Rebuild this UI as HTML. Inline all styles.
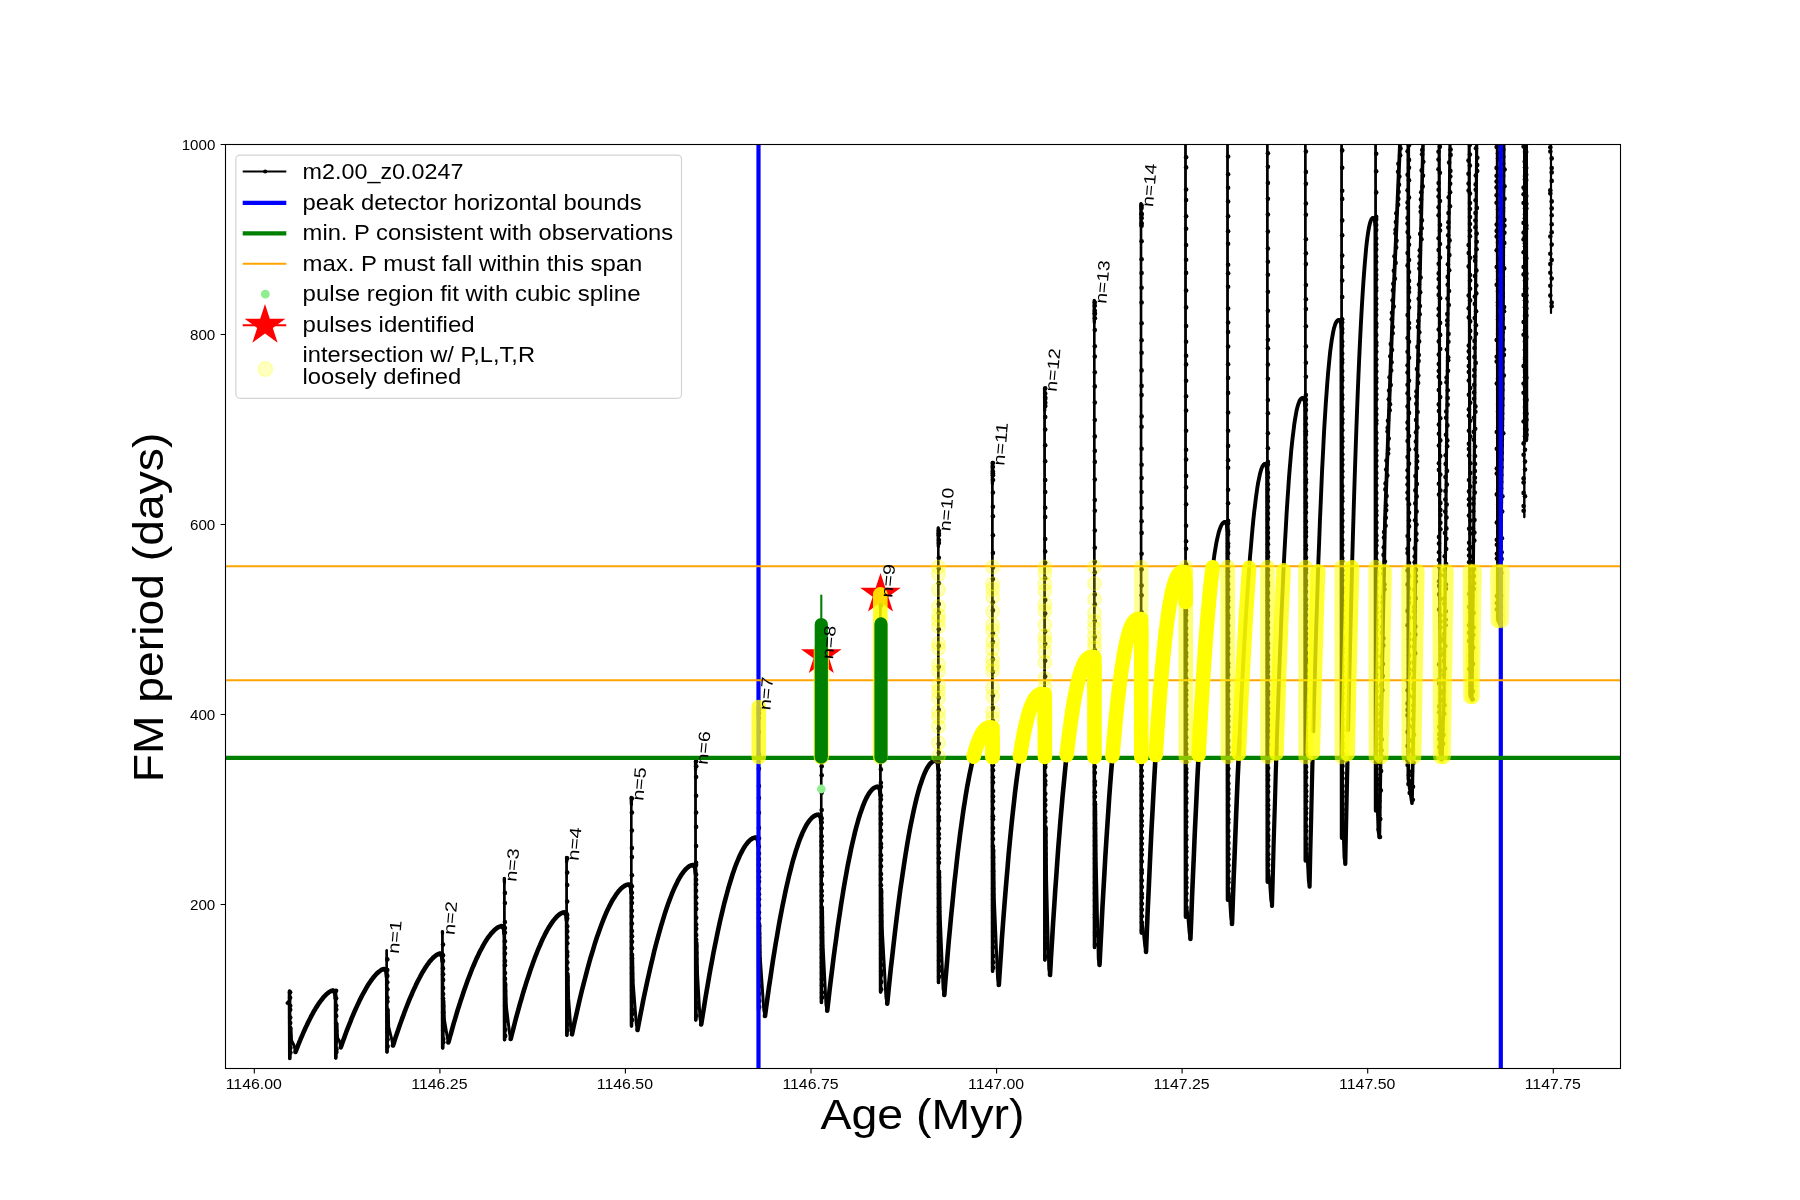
<!DOCTYPE html>
<html><head><meta charset="utf-8"><title>plot</title><style>html,body{margin:0;padding:0;background:#fff;overflow:hidden}svg{display:block;will-change:transform}</style></head><body>
<svg width="1800" height="1200" viewBox="0 0 1800 1200">
<rect x="0" y="0" width="1800" height="1200" fill="#fff"/>
<defs><clipPath id="cp"><rect x="225" y="144" width="1396" height="925"/></clipPath></defs>
<g clip-path="url(#cp)">
<g fill="none" stroke="#000" stroke-linecap="round" stroke-linejoin="round">
<path d="M289.5 991 L289.5 991" stroke-width="2.3"/>
<path d="M289.5 991 L289.8 1058.5" stroke-width="2.4"/>
<path d="M289.5 991 L289.8 1058.5" stroke-width="3.6"/>
<path d="M289.8 1058.5 L290.9 1028.5" stroke-width="2.8"/>
<path d="M290.9 1028.5 L291.5 1040.5 L294.3 1046 L295.5 1052" stroke-width="3"/>
<path d="M295.5 1052 L296.4 1049.6 L297.4 1047.2 L298.3 1044.8 L299.2 1042.5 L300.2 1040.2 L301.1 1037.9 L302.1 1035.7 L303 1033.5 L303.9 1031.4 L304.9 1029.3 L305.8 1027.3 L306.8 1025.3 L307.7 1023.3 L308.6 1021.4 L309.6 1019.5 L310.5 1017.7 L311.4 1015.9 L312.4 1014.1 L313.3 1012.4 L314.2 1010.8 L315.2 1009.2 L316.1 1007.6 L317.1 1006.1 L318 1004.7 L318.9 1003.3 L319.9 1002 L320.8 1000.7 L321.8 999.5 L322.7 998.3 L323.6 997.2 L324.6 996.2 L325.5 995.2 L326.4 994.3 L327.4 993.5 L328.3 992.7 L329.2 992 L330.2 991.5 L331.1 991 L332.1 990.7 L333 990.5" stroke-width="4.6"/>
<path d="M333 990.5 L335 993.5 L335.5 998.5" stroke-width="4"/>
<path d="M335.5 990.5 L335.5 993" stroke-width="2.3"/>
<path d="M335.5 993 L335.8 1058" stroke-width="2.4"/>
<path d="M335.5 990.5 L335.8 1058" stroke-width="3.6"/>
<path d="M335.8 1058 L336.9 1024.2" stroke-width="2.8"/>
<path d="M336.9 1024.2 L337.5 1037.8 L339.6 1041.3 L340.8 1047.3" stroke-width="3"/>
<path d="M340.8 1047.3 L341.9 1044.2 L343 1041.1 L344.1 1038.1 L345.1 1035.2 L346.2 1032.2 L347.3 1029.4 L348.4 1026.6 L349.5 1023.8 L350.6 1021.1 L351.6 1018.4 L352.7 1015.8 L353.8 1013.3 L354.9 1010.7 L356 1008.3 L357.1 1005.9 L358.2 1003.6 L359.2 1001.3 L360.3 999.1 L361.4 996.9 L362.5 994.8 L363.6 992.8 L364.7 990.8 L365.8 988.9 L366.8 987.1 L367.9 985.3 L369 983.6 L370.1 982 L371.2 980.4 L372.3 978.9 L373.4 977.5 L374.4 976.2 L375.5 975 L376.6 973.8 L377.7 972.8 L378.8 971.8 L379.9 971 L380.9 970.2 L382 969.6 L383.1 969.2 L384.2 969" stroke-width="4.6"/>
<path d="M384.2 969 L386.2 972 L386.7 977" stroke-width="4"/>
<path d="M386.7 969 L386.7 950.4" stroke-width="2.3"/>
<path d="M386.7 950.4 L387 1052" stroke-width="2.4"/>
<path d="M386.7 969 L387 1052" stroke-width="3.6"/>
<path d="M387 1052 L388.1 1010.5" stroke-width="2.8"/>
<path d="M388.1 1010.5 L388.7 1027.1 L391.8 1039.5 L393 1045.5" stroke-width="3"/>
<path d="M393 1045.5 L394.2 1041.9 L395.3 1038.3 L396.5 1034.7 L397.7 1031.2 L398.9 1027.8 L400 1024.5 L401.2 1021.2 L402.4 1017.9 L403.6 1014.7 L404.7 1011.6 L405.9 1008.5 L407.1 1005.5 L408.2 1002.6 L409.4 999.7 L410.6 996.9 L411.8 994.2 L412.9 991.5 L414.1 988.9 L415.3 986.4 L416.4 983.9 L417.6 981.5 L418.8 979.2 L420 977 L421.1 974.8 L422.3 972.7 L423.5 970.7 L424.7 968.8 L425.8 967 L427 965.2 L428.2 963.6 L429.3 962 L430.5 960.6 L431.7 959.3 L432.9 958 L434 956.9 L435.2 955.9 L436.4 955.1 L437.6 954.4 L438.7 953.9 L439.9 953.6" stroke-width="4.6"/>
<path d="M439.9 953.6 L441.9 956.6 L442.4 961.6" stroke-width="4"/>
<path d="M442.4 953.6 L442.4 931.6" stroke-width="2.3"/>
<path d="M442.4 931.6 L442.7 1048" stroke-width="2.4"/>
<path d="M442.4 931.6 L442.5 933.4" stroke-width="3.3"/>
<path d="M442.4 953.6 L442.7 1048" stroke-width="3.6"/>
<path d="M442.7 1048 L443.8 1000.8" stroke-width="2.8"/>
<path d="M443.8 1000.8 L444.4 1019.7 L447.2 1036.5 L448.4 1042.5" stroke-width="3"/>
<path d="M448.4 1042.5 L449.7 1037.6 L451.1 1032.8 L452.4 1028.1 L453.7 1023.4 L455.1 1018.9 L456.4 1014.4 L457.7 1010 L459.1 1005.8 L460.4 1001.6 L461.8 997.5 L463.1 993.5 L464.4 989.6 L465.8 985.8 L467.1 982.1 L468.4 978.5 L469.8 974.9 L471.1 971.5 L472.4 968.2 L473.8 965 L475.1 961.9 L476.4 958.9 L477.8 956.1 L479.1 953.3 L480.4 950.6 L481.8 948.1 L483.1 945.6 L484.4 943.3 L485.8 941.1 L487.1 939.1 L488.4 937.1 L489.8 935.3 L491.1 933.6 L492.5 932.1 L493.8 930.7 L495.1 929.5 L496.5 928.4 L497.8 927.5 L499.1 926.8 L500.5 926.3 L501.8 926.1" stroke-width="4.6"/>
<path d="M501.8 926.1 L503.8 929.1 L504.3 934.1" stroke-width="4"/>
<path d="M504.3 926.1 L504.3 878.5" stroke-width="2.3"/>
<path d="M504.3 878.5 L504.6 1039.8" stroke-width="2.4"/>
<path d="M504.3 878.5 L504.4 882.3" stroke-width="3.3"/>
<path d="M504.3 926.1 L504.6 1039.8" stroke-width="3.6"/>
<path d="M504.6 1039.8 L505.7 983" stroke-width="2.8"/>
<path d="M505.7 983 L506.3 1005.7 L509.5 1032.9 L510.7 1038.9" stroke-width="3"/>
<path d="M510.7 1038.9 L512 1033.6 L513.4 1028.3 L514.7 1023.2 L516 1018.2 L517.4 1013.2 L518.7 1008.4 L520 1003.6 L521.4 999 L522.7 994.4 L524 990 L525.4 985.6 L526.7 981.4 L528.1 977.2 L529.4 973.2 L530.7 969.3 L532.1 965.5 L533.4 961.8 L534.7 958.2 L536.1 954.7 L537.4 951.3 L538.7 948.1 L540.1 945 L541.4 941.9 L542.7 939 L544.1 936.3 L545.4 933.6 L546.7 931.1 L548.1 928.7 L549.4 926.5 L550.8 924.4 L552.1 922.4 L553.4 920.6 L554.8 918.9 L556.1 917.4 L557.4 916.1 L558.8 914.9 L560.1 913.9 L561.4 913.2 L562.8 912.6 L564.1 912.4" stroke-width="4.6"/>
<path d="M564.1 912.4 L566.1 915.4 L566.6 920.4" stroke-width="4"/>
<path d="M566.6 912.4 L566.6 857.4" stroke-width="2.3"/>
<path d="M566.6 857.4 L566.9 1035.2" stroke-width="2.4"/>
<path d="M566.6 857.4 L566.7 861.8" stroke-width="3.3"/>
<path d="M566.6 912.4 L566.9 1035.2" stroke-width="3.6"/>
<path d="M566.9 1035.2 L568 973.8" stroke-width="2.8"/>
<path d="M568 973.8 L568.6 998.4 L570.8 1028.3 L572 1034.3" stroke-width="3"/>
<path d="M572 1034.3 L573.4 1027.6 L574.8 1021.1 L576.3 1014.7 L577.7 1008.4 L579.1 1002.3 L580.5 996.3 L581.9 990.5 L583.4 984.7 L584.8 979.2 L586.2 973.8 L587.6 968.5 L589 963.3 L590.4 958.3 L591.9 953.5 L593.3 948.8 L594.7 944.2 L596.1 939.8 L597.5 935.6 L599 931.5 L600.4 927.5 L601.8 923.7 L603.2 920.1 L604.6 916.6 L606 913.3 L607.5 910.1 L608.9 907.1 L610.3 904.3 L611.7 901.7 L613.1 899.2 L614.6 896.9 L616 894.7 L617.4 892.8 L618.8 891 L620.2 889.4 L621.7 888 L623.1 886.9 L624.5 885.9 L625.9 885.2 L627.3 884.7 L628.8 884.5" stroke-width="4.6"/>
<path d="M628.8 884.5 L630.8 887.5 L631.2 892.5" stroke-width="4"/>
<path d="M631.2 884.5 L631.2 797.5" stroke-width="2.3"/>
<path d="M631.2 797.5 L631.5 1026" stroke-width="2.4"/>
<path d="M631.2 797.5 L631.4 804.5" stroke-width="3.3"/>
<path d="M631.2 884.5 L631.5 1026" stroke-width="3.6"/>
<path d="M631.5 1026 L632.6 955.2" stroke-width="2.8"/>
<path d="M632.6 955.2 L633.2 983.5 L636.3 1024 L637.5 1030" stroke-width="3"/>
<path d="M637.5 1030 L638.9 1022.6 L640.3 1015.4 L641.7 1008.4 L643 1001.5 L644.4 994.7 L645.8 988.2 L647.2 981.7 L648.6 975.4 L650 969.3 L651.4 963.3 L652.8 957.5 L654.1 951.8 L655.5 946.3 L656.9 941 L658.3 935.8 L659.7 930.8 L661.1 925.9 L662.5 921.3 L663.9 916.7 L665.2 912.4 L666.6 908.2 L668 904.2 L669.4 900.4 L670.8 896.7 L672.2 893.2 L673.6 889.9 L675 886.8 L676.4 883.9 L677.7 881.2 L679.1 878.6 L680.5 876.3 L681.9 874.1 L683.3 872.2 L684.7 870.4 L686.1 868.9 L687.5 867.6 L688.8 866.6 L690.2 865.8 L691.6 865.2 L693 865" stroke-width="4.6"/>
<path d="M693 865 L695 868 L695.5 873" stroke-width="4"/>
<path d="M695.5 865 L695.5 761.2" stroke-width="2.3"/>
<path d="M695.5 761.2 L695.8 1020" stroke-width="2.4"/>
<path d="M695.5 761.2 L695.6 769.5" stroke-width="3.3"/>
<path d="M695.5 865 L695.8 1020" stroke-width="3.6"/>
<path d="M695.8 1020 L696.9 942.5" stroke-width="2.8"/>
<path d="M696.9 942.5 L697.5 973.5 L700 1018.5 L701.2 1024.5" stroke-width="3"/>
<path d="M701.2 1024.5 L702.6 1015.7 L704 1007.1 L705.3 998.8 L706.7 990.6 L708.1 982.6 L709.4 974.8 L710.8 967.2 L712.2 959.9 L713.5 952.7 L714.9 945.8 L716.3 939 L717.6 932.5 L719 926.1 L720.3 920 L721.7 914.1 L723.1 908.3 L724.4 902.8 L725.8 897.6 L727.2 892.5 L728.5 887.6 L729.9 883 L731.3 878.5 L732.6 874.3 L734 870.3 L735.3 866.5 L736.7 862.9 L738.1 859.6 L739.4 856.5 L740.8 853.6 L742.2 850.9 L743.5 848.5 L744.9 846.3 L746.3 844.3 L747.6 842.6 L749 841.1 L750.3 839.9 L751.7 838.9 L753.1 838.1 L754.4 837.7 L755.8 837.5" stroke-width="4.6"/>
<path d="M755.8 837.5 L757.8 840.5 L758.3 845.5" stroke-width="4"/>
<path d="M758.3 837.5 L758.3 707" stroke-width="2.3"/>
<path d="M758.3 707 L758.6 1010" stroke-width="2.4"/>
<path d="M758.3 707 L758.4 717.4" stroke-width="3.3"/>
<path d="M758.3 837.5 L758.6 1010" stroke-width="3.6"/>
<path d="M758.6 1010 L759.7 923.8" stroke-width="2.8"/>
<path d="M759.7 923.8 L760.3 958.2 L763.8 1010 L765 1016" stroke-width="3"/>
<path d="M765 1016 L766.3 1006.1 L767.7 996.4 L769 986.9 L770.4 977.8 L771.7 968.8 L773 960.1 L774.4 951.7 L775.7 943.5 L777.1 935.6 L778.4 927.9 L779.7 920.5 L781.1 913.3 L782.4 906.4 L783.8 899.7 L785.1 893.3 L786.4 887.2 L787.8 881.3 L789.1 875.6 L790.5 870.2 L791.8 865 L793.1 860.1 L794.5 855.5 L795.8 851.1 L797.2 846.9 L798.5 843 L799.8 839.4 L801.2 836 L802.5 832.8 L803.9 829.9 L805.2 827.3 L806.5 824.9 L807.9 822.8 L809.2 820.9 L810.6 819.2 L811.9 817.8 L813.2 816.7 L814.6 815.8 L815.9 815.2 L817.3 814.8 L818.6 814.7" stroke-width="4.6"/>
<path d="M818.6 814.7 L820.6 817.7 L821.1 822.7" stroke-width="4"/>
<path d="M821.1 814.7 L821.1 655.8" stroke-width="2.3"/>
<path d="M821.1 655.8 L821.4 1002.5" stroke-width="2.4"/>
<path d="M821.1 655.8 L821.2 668.5" stroke-width="3.3"/>
<path d="M821.1 814.7 L821.4 1002.5" stroke-width="3.6"/>
<path d="M821.4 1002.5 L822.5 908.6" stroke-width="2.8"/>
<path d="M822.5 908.6 L823.1 946.2 L826 1004.7 L827.2 1010.7" stroke-width="3"/>
<path d="M827.2 1010.7 L828.5 999.6 L829.7 988.9 L831 978.4 L832.3 968.1 L833.5 958.2 L834.8 948.5 L836.1 939.2 L837.3 930.1 L838.6 921.2 L839.9 912.7 L841.1 904.4 L842.4 896.5 L843.6 888.8 L844.9 881.3 L846.2 874.2 L847.4 867.3 L848.7 860.8 L850 854.5 L851.2 848.4 L852.5 842.7 L853.8 837.2 L855 832.1 L856.3 827.2 L857.6 822.5 L858.8 818.2 L860.1 814.1 L861.4 810.4 L862.6 806.9 L863.9 803.6 L865.1 800.7 L866.4 798 L867.7 795.7 L868.9 793.6 L870.2 791.7 L871.5 790.2 L872.7 788.9 L874 788 L875.3 787.3 L876.5 786.8 L877.8 786.7" stroke-width="4.6"/>
<path d="M877.8 786.7 L879.8 789.7 L880.3 794.7" stroke-width="4"/>
<path d="M880.3 786.7 L880.3 594.3" stroke-width="2.3"/>
<path d="M880.3 594.3 L880.6 992" stroke-width="2.4"/>
<path d="M880.3 594.3 L880.4 609.7" stroke-width="3.3"/>
<path d="M880.3 786.7 L880.6 992" stroke-width="3.6"/>
<path d="M880.6 992 L881.7 889.4" stroke-width="2.8"/>
<path d="M881.7 889.4 L882.3 930.4 L886 997.7 L887.2 1003.7" stroke-width="3"/>
<path d="M887.2 1003.7 L888.4 991.7 L889.6 980 L890.8 968.6 L892.1 957.5 L893.3 946.7 L894.5 936.2 L895.7 926 L896.9 916.1 L898.1 906.6 L899.3 897.3 L900.5 888.3 L901.8 879.7 L903 871.3 L904.2 863.3 L905.4 855.5 L906.6 848.1 L907.8 840.9 L909 834.1 L910.2 827.5 L911.5 821.3 L912.7 815.4 L913.9 809.7 L915.1 804.4 L916.3 799.4 L917.5 794.7 L918.7 790.3 L919.9 786.2 L921.2 782.4 L922.4 778.9 L923.6 775.7 L924.8 772.8 L926 770.2 L927.2 767.9 L928.4 766 L929.6 764.3 L930.9 762.9 L932.1 761.9 L933.3 761.1 L934.5 760.7 L935.7 760.5" stroke-width="4.6"/>
<path d="M935.7 760.5 L937.7 763.5 L938.2 768.5" stroke-width="4"/>
<path d="M938.2 760.5 L938.2 528" stroke-width="2.3"/>
<path d="M938.2 528 L938.5 982.5" stroke-width="2.4"/>
<path d="M938.2 528 L938.3 546.6" stroke-width="3.3"/>
<path d="M938.2 760.5 L938.5 982.5" stroke-width="3.6"/>
<path d="M938.5 982.5 L939.6 871.5" stroke-width="2.8"/>
<path d="M939.6 871.5 L940.2 915.9 L943.1 989 L944.3 995" stroke-width="3"/>
<path d="M944.3 995 L945.4 980.8 L946.6 967.1 L947.7 953.7 L948.8 940.8 L950 928.2 L951.1 916.1 L952.3 904.4 L953.4 893.1 L954.5 882.1 L955.7 871.6 L956.8 861.5 L957.9 851.7 L959.1 842.4 L960.2 833.4 L961.4 824.9 L962.5 816.7 L963.6 808.9 L964.8 801.5 L965.9 794.4 L967 787.8 L968.2 781.5 L969.3 775.6 L970.5 770 L971.6 764.8 L972.7 760 L973.9 755.5 L975 751.4 L976.1 747.6 L977.3 744.2 L978.4 741.1 L979.6 738.3 L980.7 735.9 L981.8 733.8 L983 732 L984.1 730.6 L985.2 729.4 L986.4 728.5 L987.5 727.9 L988.7 727.6 L989.8 727.5" stroke-width="4.6"/>
<path d="M989.8 727.5 L991.8 730.5 L992.3 735.5" stroke-width="4"/>
<path d="M992.3 727.5 L992.3 462.5" stroke-width="2.3"/>
<path d="M992.3 462.5 L992.6 971.3" stroke-width="2.4"/>
<path d="M992.3 462.5 L992.4 483.7" stroke-width="3.3"/>
<path d="M992.3 727.5 L992.6 971.3" stroke-width="3.6"/>
<path d="M992.6 971.3 L993.7 849.4" stroke-width="2.8"/>
<path d="M993.7 849.4 L994.3 898.2 L997.6 979 L998.8 985" stroke-width="3"/>
<path d="M998.8 985 L999.9 968.5 L1001 952.6 L1002 937.2 L1003.1 922.4 L1004.2 908 L1005.3 894.2 L1006.4 881 L1007.5 868.2 L1008.5 855.9 L1009.6 844.2 L1010.7 832.9 L1011.8 822.1 L1012.9 811.8 L1014 802 L1015 792.7 L1016.1 783.9 L1017.2 775.5 L1018.3 767.6 L1019.4 760.1 L1020.4 753.1 L1021.5 746.5 L1022.6 740.4 L1023.7 734.7 L1024.8 729.4 L1025.9 724.5 L1026.9 720 L1028 715.9 L1029.1 712.3 L1030.2 708.9 L1031.3 706 L1032.4 703.4 L1033.4 701.2 L1034.5 699.3 L1035.6 697.7 L1036.7 696.4 L1037.8 695.5 L1038.9 694.8 L1039.9 694.3 L1041 694.1 L1042.1 694" stroke-width="4.6"/>
<path d="M1042.1 694 L1044.1 697 L1044.6 702" stroke-width="4"/>
<path d="M1044.6 694 L1044.6 388.4" stroke-width="2.3"/>
<path d="M1044.6 388.4 L1044.9 960" stroke-width="2.4"/>
<path d="M1044.6 388.4 L1044.7 410.4" stroke-width="3.3"/>
<path d="M1044.6 694 L1044.9 960" stroke-width="3.6"/>
<path d="M1044.9 960 L1046 827" stroke-width="2.8"/>
<path d="M1046 827 L1046.6 880.2 L1048.8 969 L1050 975" stroke-width="3"/>
<path d="M1050 975 L1051 957 L1052.1 939.6 L1053.1 922.8 L1054.2 906.6 L1055.2 890.9 L1056.3 875.8 L1057.3 861.3 L1058.3 847.3 L1059.4 833.9 L1060.4 821.1 L1061.5 808.8 L1062.5 797 L1063.6 785.8 L1064.6 775.1 L1065.6 764.9 L1066.7 755.2 L1067.7 746.1 L1068.8 737.4 L1069.8 729.2 L1070.8 721.6 L1071.9 714.4 L1072.9 707.7 L1074 701.4 L1075 695.7 L1076.1 690.3 L1077.1 685.4 L1078.1 681 L1079.2 676.9 L1080.2 673.3 L1081.3 670.1 L1082.3 667.3 L1083.4 664.8 L1084.4 662.8 L1085.4 661 L1086.5 659.7 L1087.5 658.6 L1088.6 657.8 L1089.6 657.3 L1090.7 657.1 L1091.7 657" stroke-width="4.6"/>
<path d="M1091.7 657 L1093.7 660 L1094.2 665" stroke-width="4"/>
<path d="M1094.2 657 L1094.2 300.5" stroke-width="2.3"/>
<path d="M1094.2 300.5 L1094.5 947.5" stroke-width="2.4"/>
<path d="M1094.2 300.5 L1094.3 322.5" stroke-width="3.3"/>
<path d="M1094.2 657 L1094.5 947.5" stroke-width="3.6"/>
<path d="M1094.5 947.5 L1095.6 802.2" stroke-width="2.8"/>
<path d="M1095.6 802.2 L1096.2 860.4 L1098.3 959 L1099.5 965" stroke-width="3"/>
<path d="M1099.5 965 L1100.5 945.4 L1101.5 926.5 L1102.4 908.2 L1103.4 890.5 L1104.4 873.5 L1105.3 857.1 L1106.3 841.3 L1107.3 826.1 L1108.3 811.5 L1109.2 797.5 L1110.2 784.1 L1111.2 771.3 L1112.2 759.1 L1113.2 747.5 L1114.1 736.4 L1115.1 725.9 L1116.1 715.9 L1117 706.5 L1118 697.6 L1119 689.3 L1120 681.4 L1121 674.1 L1121.9 667.3 L1122.9 661.1 L1123.9 655.3 L1124.8 649.9 L1125.8 645.1 L1126.8 640.7 L1127.8 636.8 L1128.8 633.3 L1129.7 630.2 L1130.7 627.5 L1131.7 625.3 L1132.7 623.4 L1133.6 621.9 L1134.6 620.7 L1135.6 619.9 L1136.5 619.4 L1137.5 619.1 L1138.5 619" stroke-width="4.6"/>
<path d="M1138.5 619 L1140.5 622 L1141 627" stroke-width="4"/>
<path d="M1141 619 L1141 203.6" stroke-width="2.3"/>
<path d="M1141 203.6 L1141.3 933" stroke-width="2.4"/>
<path d="M1141 203.6 L1141.1 225.6" stroke-width="3.3"/>
<path d="M1141 619 L1141.3 933" stroke-width="3.6"/>
<path d="M1141.3 933 L1142.4 925" stroke-width="2.8"/>
<path d="M1142.4 925 L1143 928.2 L1144.8 946 L1146 952" stroke-width="3"/>
<path d="M1146 952 L1146.9 929.6 L1147.8 908 L1148.8 887.2 L1149.7 867.1 L1150.6 847.8 L1151.5 829.3 L1152.5 811.5 L1153.4 794.4 L1154.3 778.1 L1155.2 762.5 L1156.2 747.6" stroke-width="4.6"/>
<path d="M1156.2 747.6 L1157.1 733.4 L1158 719.9 L1159 707.1 L1159.9 695 L1160.8 683.5 L1161.7 672.7 L1162.7 662.5 L1163.6 652.9 L1164.5 644 L1165.4 635.7 L1166.3 627.9 L1167.3 620.7 L1168.2 614.1 L1169.1 608.1 L1170 602.6 L1171 597.6 L1171.9 593.1 L1172.8 589.1 L1173.8 585.6 L1174.7 582.6 L1175.6 580 L1176.5 577.8 L1177.5 576 L1178.4 574.6 L1179.3 573.5 L1180.2 572.8 L1181.2 572.3 L1182.1 572.1 L1183 572" stroke-width="3.9"/>
<path d="M1183 572 L1185 575 L1185.5 580" stroke-width="4"/>
<path d="M1185.5 572 L1185.5 144" stroke-width="2.3"/>
<path d="M1185.5 144 L1185.8 917" stroke-width="2.4"/>
<path d="M1185.5 572 L1185.8 917" stroke-width="4.2"/>
<path d="M1185.8 917 L1186.9 909" stroke-width="2.8"/>
<path d="M1186.9 909 L1187.5 912.2 L1189.2 933 L1190.4 939" stroke-width="3"/>
<path d="M1190.4 939 L1191.3 916.9 L1192.1 895.5 L1193 874.6 L1193.9 854.5 L1194.7 834.9 L1195.6 816 L1196.5 797.7 L1197.3 780.1 L1198.2 763.1 L1199.1 746.7" stroke-width="4.6"/>
<path d="M1199.1 746.7 L1199.9 730.9 L1200.8 715.7 L1201.6 701.1 L1202.5 687.2 L1203.4 673.8 L1204.2 661 L1205.1 648.9 L1206 637.3 L1206.8 626.3 L1207.7 616 L1208.6 606.1 L1209.4 596.9 L1210.3 588.2 L1211.2 580.2 L1212 572.6 L1212.9 565.6 L1213.8 559.2 L1214.6 553.3 L1215.5 548 L1216.3 543.2 L1217.2 538.9 L1218.1 535.1 L1218.9 531.8 L1219.8 529.1 L1220.7 526.8 L1221.5 525 L1222.4 523.6 L1223.3 522.7 L1224.1 522.1 L1225 522" stroke-width="3.9"/>
<path d="M1225 522 L1227 525 L1227.5 530" stroke-width="4"/>
<path d="M1227.5 522 L1227.5 144" stroke-width="2.3"/>
<path d="M1227.5 144 L1227.8 900" stroke-width="2.4"/>
<path d="M1227.5 522 L1227.8 900" stroke-width="4.2"/>
<path d="M1227.8 900 L1228.8 892" stroke-width="2.8"/>
<path d="M1228.8 892 L1229.4 895.2 L1230.8 918 L1232 924" stroke-width="3"/>
<path d="M1232 924 L1232.8 901.3 L1233.6 879.1 L1234.5 857.6 L1235.3 836.6 L1236.1 816.2 L1236.9 796.3 L1237.7 777.1 L1238.6 758.4 L1239.4 740.3" stroke-width="4.6"/>
<path d="M1238.6 758.4 L1239.4 740.3 L1240.2 722.8 L1241 705.8 L1241.8 689.4 L1242.7 673.6 L1243.5 658.4 L1244.3 643.7 L1245.1 629.6 L1245.9 616.1 L1246.8 603.1 L1247.6 590.8 L1248.4 579 L1249.2 567.8 L1250 557.1 L1250.9 547.1 L1251.7 537.6 L1252.5 528.7 L1253.3 520.3 L1254.1 512.6 L1255 505.4 L1255.8 498.8 L1256.6 492.8 L1257.4 487.3 L1258.2 482.4 L1259.1 478.1 L1259.9 474.3 L1260.7 471.2 L1261.5 468.6 L1262.3 466.6 L1263.2 465.2 L1264 464.3 L1264.8 464" stroke-width="3.9"/>
<path d="M1264.8 464 L1266.8 467 L1267.3 472" stroke-width="4"/>
<path d="M1267.3 464 L1267.3 144" stroke-width="2.3"/>
<path d="M1267.3 144 L1267.6 882" stroke-width="2.4"/>
<path d="M1267.3 464 L1267.6 882" stroke-width="4.2"/>
<path d="M1267.6 882 L1268.7 874" stroke-width="2.8"/>
<path d="M1268.7 874 L1269.3 877.2 L1270.8 900 L1272 906" stroke-width="3"/>
<path d="M1272 906 L1272.8 877.3 L1273.5 849.5 L1274.3 822.6 L1275.1 796.7 L1275.8 771.7 L1276.6 747.6" stroke-width="4.2"/>
<path d="M1276.6 747.6 L1277.4 724.4 L1278.2 702.1 L1278.9 680.7 L1279.7 660.1 L1280.5 640.5 L1281.2 621.7 L1282 603.7 L1282.8 586.6 L1283.5 570.3 L1284.3 554.9 L1285.1 540.3 L1285.9 526.4 L1286.6 513.4 L1287.4 501.2 L1288.2 489.7 L1288.9 479 L1289.7 469 L1290.5 459.7 L1291.2 451.2 L1292 443.4 L1292.8 436.3 L1293.6 429.9 L1294.3 424.1 L1295.1 418.9 L1295.9 414.4 L1296.6 410.5 L1297.4 407.2 L1298.2 404.5 L1299 402.3 L1299.7 400.5 L1300.5 399.3 L1301.3 398.5 L1302 398.1 L1302.8 398" stroke-width="3.9"/>
<path d="M1302.8 398 L1304.8 401 L1305.3 406" stroke-width="4"/>
<path d="M1305.3 398 L1305.3 144" stroke-width="2.3"/>
<path d="M1305.3 144 L1305.6 860.7" stroke-width="2.4"/>
<path d="M1305.3 398 L1305.6 860.7" stroke-width="4.2"/>
<path d="M1305.6 860.7 L1306.6 852.7" stroke-width="2.8"/>
<path d="M1306.6 852.7 L1307.2 855.9 L1308.4 880.7 L1309.6 886.7" stroke-width="3"/>
<path d="M1309.6 886.7 L1310.3 853.3 L1311.1 821.1 L1311.8 790 L1312.5 760.1" stroke-width="4.2"/>
<path d="M1313.3 731.3 L1314 703.7 L1314.8 677.1 L1315.5 651.7 L1316.2 627.4 L1317 604.1 L1317.7 581.9 L1318.4 560.8 L1319.2 540.6 L1319.9 521.5 L1320.7 503.4 L1321.4 486.3 L1322.1 470.2 L1322.9 455 L1323.6 440.7 L1324.3 427.4 L1325.1 414.9 L1325.8 403.4 L1326.6 392.7 L1327.3 382.8 L1328 373.8 L1328.8 365.6 L1329.5 358.2 L1330.2 351.5 L1331 345.6 L1331.7 340.3 L1332.5 335.8 L1333.2 331.9 L1333.9 328.6 L1334.7 326 L1335.4 323.9 L1336.1 322.3 L1336.9 321.1 L1337.6 320.4 L1338.4 320.1 L1339.1 320" stroke-width="3.9"/>
<path d="M1339.1 320 L1341.1 323 L1341.6 328" stroke-width="4"/>
<path d="M1341.6 320 L1341.6 144" stroke-width="2.3"/>
<path d="M1341.6 144 L1341.9 838" stroke-width="2.4"/>
<path d="M1341.6 320 L1341.9 838" stroke-width="4.2"/>
<path d="M1341.9 838 L1342.7 830" stroke-width="2.8"/>
<path d="M1342.7 830 L1343.3 833.2 L1344.1 858 L1345.3 864" stroke-width="3"/>
<path d="M1345.3 864 L1346 829 L1346.7 795.1 L1347.4 762.2" stroke-width="4.2"/>
<path d="M1348.1 730.3 L1348.8 699.6 L1349.5 669.8 L1350.2 641.1 L1350.9 613.4 L1351.6 586.7 L1352.2 561.1 L1352.9 536.4 L1353.6 512.7 L1354.3 490.1 L1355 468.4 L1355.7 447.7 L1356.4 428 L1357.1 409.2 L1357.8 391.4 L1358.5 374.5 L1359.2 358.6 L1359.9 343.6 L1360.6 329.5 L1361.3 316.3 L1362 304.1 L1362.7 292.7 L1363.4 282.1 L1364.1 272.5 L1364.8 263.7 L1365.5 255.7 L1366.1 248.6 L1366.8 242.3 L1367.5 236.7 L1368.2 232 L1368.9 227.9 L1369.6 224.7 L1370.3 222.1 L1371 220.2 L1371.7 218.9 L1372.4 218.2 L1373.1 218" stroke-width="3.9"/>
<path d="M1373.1 218 L1375.1 221 L1375.6 226" stroke-width="4"/>
<path d="M1375.6 218 L1375.6 144" stroke-width="2.3"/>
<path d="M1375.6 144 L1375.9 810.7" stroke-width="2.4"/>
<path d="M1375.6 218 L1375.9 810.7" stroke-width="4.2"/>
<path d="M1375.9 810.7 L1376.7 802.7" stroke-width="2.8"/>
<path d="M1376.7 802.7 L1377.3 805.9 L1378.1 831.3 L1379.3 837.3" stroke-width="3"/>
<path d="M1379.3 837.3 L1381.5 700 L1385 520 L1392 330 L1400 144" stroke-width="3.8"/>
<path d="M1408.3 144 L1408.3 778.7 L1410 790 L1412 803.3 L1414 700 L1417 400 L1423 144" stroke-width="3.6"/>
<path d="M1439.2 144 L1440 753 L1442 760 L1444 700 L1447 400 L1450 144" stroke-width="3.2"/>
<path d="M1469.2 144 L1470 696 L1472 700 L1474 500 L1476.7 144" stroke-width="3.2"/>
<path d="M1497.3 144 L1497.6 620 L1500 625 L1503 400 L1504 144" stroke-width="3"/>
<path d="M1524.3 144 L1524.3 517" stroke-width="2.4"/>
<path d="M1525.5 144 L1525.8 440" stroke-width="5"/>
<path d="M1551 144 L1551 313" stroke-width="2.2"/>
<path d="M287.3 1003 L289.5 1001" stroke-width="3.6"/>
</g>
<g fill="#000"><circle cx="290.1" cy="992.2" r="2.3"/><circle cx="290.1" cy="997.7" r="2.3"/><circle cx="290.2" cy="1005.7" r="2.3"/><circle cx="290.2" cy="1009.7" r="2.3"/><circle cx="290.2" cy="1017.5" r="2.3"/><circle cx="290.2" cy="1023" r="2.3"/><circle cx="290.3" cy="1028" r="2.3"/><circle cx="290.3" cy="1035.8" r="2.3"/><circle cx="290.3" cy="1040.2" r="2.3"/><circle cx="290.4" cy="1047.8" r="2.3"/><circle cx="290.4" cy="1052.6" r="2.3"/><circle cx="336.1" cy="990.8" r="2.3"/><circle cx="336.1" cy="998.2" r="2.3"/><circle cx="336.2" cy="1005.8" r="2.3"/><circle cx="336.2" cy="1009.4" r="2.3"/><circle cx="336.2" cy="1015.9" r="2.3"/><circle cx="336.2" cy="1023.5" r="2.3"/><circle cx="336.3" cy="1030.8" r="2.3"/><circle cx="336.3" cy="1035.6" r="2.3"/><circle cx="336.3" cy="1041.1" r="2.3"/><circle cx="336.4" cy="1049.3" r="2.3"/><circle cx="336.4" cy="1052" r="2.3"/><circle cx="387.3" cy="959.4" r="2.3"/><circle cx="387.3" cy="970.1" r="2.3"/><circle cx="387.3" cy="975.9" r="2.3"/><circle cx="387.3" cy="982.2" r="2.3"/><circle cx="387.4" cy="989.3" r="2.3"/><circle cx="387.4" cy="997.7" r="2.3"/><circle cx="387.4" cy="1001.6" r="2.3"/><circle cx="387.4" cy="1009.5" r="2.3"/><circle cx="387.5" cy="1016.1" r="2.3"/><circle cx="387.5" cy="1021.5" r="2.3"/><circle cx="387.5" cy="1028.6" r="2.3"/><circle cx="387.5" cy="1033.1" r="2.3"/><circle cx="387.6" cy="1039.5" r="2.3"/><circle cx="387.6" cy="1046.4" r="2.3"/><circle cx="443" cy="944.6" r="2.3"/><circle cx="443" cy="955.2" r="2.3"/><circle cx="443" cy="961.1" r="2.3"/><circle cx="443" cy="968.4" r="2.3"/><circle cx="443.1" cy="974.2" r="2.3"/><circle cx="443.1" cy="979.9" r="2.3"/><circle cx="443.1" cy="988.1" r="2.3"/><circle cx="443.1" cy="994" r="2.3"/><circle cx="443.1" cy="998.6" r="2.3"/><circle cx="443.2" cy="1006.1" r="2.3"/><circle cx="443.2" cy="1012.2" r="2.3"/><circle cx="443.2" cy="1019.8" r="2.3"/><circle cx="443.2" cy="1025.6" r="2.3"/><circle cx="443.2" cy="1030.2" r="2.3"/><circle cx="443.3" cy="1039.1" r="2.3"/><circle cx="443.3" cy="1042.2" r="2.3"/><circle cx="504.9" cy="922.1" r="2.3"/><circle cx="504.9" cy="903" r="2.3"/><circle cx="504.9" cy="892.9" r="2.3"/><circle cx="504.9" cy="928" r="2.3"/><circle cx="504.9" cy="932.6" r="2.3"/><circle cx="504.9" cy="941.3" r="2.3"/><circle cx="505" cy="947.9" r="2.3"/><circle cx="505" cy="953.5" r="2.3"/><circle cx="505" cy="961" r="2.3"/><circle cx="505" cy="965.2" r="2.3"/><circle cx="505" cy="973" r="2.3"/><circle cx="505" cy="978.9" r="2.3"/><circle cx="505.1" cy="985.1" r="2.3"/><circle cx="505.1" cy="991" r="2.3"/><circle cx="505.1" cy="998.8" r="2.3"/><circle cx="505.1" cy="1005.5" r="2.3"/><circle cx="505.1" cy="1010" r="2.3"/><circle cx="505.1" cy="1017.1" r="2.3"/><circle cx="505.2" cy="1021.1" r="2.3"/><circle cx="505.2" cy="1029.8" r="2.3"/><circle cx="505.2" cy="1035.9" r="2.3"/><circle cx="567.2" cy="901.5" r="2.3"/><circle cx="567.2" cy="885" r="2.3"/><circle cx="567.2" cy="872.6" r="2.3"/><circle cx="567.2" cy="858.4" r="2.3"/><circle cx="567.2" cy="914.9" r="2.3"/><circle cx="567.2" cy="918.6" r="2.3"/><circle cx="567.2" cy="926.4" r="2.3"/><circle cx="567.2" cy="931.4" r="2.3"/><circle cx="567.3" cy="937.4" r="2.3"/><circle cx="567.3" cy="943.3" r="2.3"/><circle cx="567.3" cy="952.1" r="2.3"/><circle cx="567.3" cy="955.9" r="2.3"/><circle cx="567.3" cy="962.4" r="2.3"/><circle cx="567.3" cy="969.1" r="2.3"/><circle cx="567.4" cy="977" r="2.3"/><circle cx="567.4" cy="980.2" r="2.3"/><circle cx="567.4" cy="987.7" r="2.3"/><circle cx="567.4" cy="994.2" r="2.3"/><circle cx="567.4" cy="1001.6" r="2.3"/><circle cx="567.4" cy="1007.5" r="2.3"/><circle cx="567.4" cy="1013.8" r="2.3"/><circle cx="567.5" cy="1017.8" r="2.3"/><circle cx="567.5" cy="1024.4" r="2.3"/><circle cx="567.5" cy="1030.4" r="2.3"/><circle cx="631.9" cy="875.3" r="2.3"/><circle cx="631.9" cy="857.1" r="2.3"/><circle cx="631.9" cy="848.1" r="2.3"/><circle cx="631.9" cy="830.5" r="2.3"/><circle cx="631.9" cy="812.5" r="2.3"/><circle cx="631.9" cy="798.5" r="2.3"/><circle cx="631.9" cy="886.3" r="2.3"/><circle cx="631.9" cy="892.8" r="2.3"/><circle cx="631.9" cy="897.8" r="2.3"/><circle cx="631.9" cy="903" r="2.3"/><circle cx="631.9" cy="910.7" r="2.3"/><circle cx="631.9" cy="916.6" r="2.3"/><circle cx="631.9" cy="923.5" r="2.3"/><circle cx="631.9" cy="931.1" r="2.3"/><circle cx="632" cy="936.3" r="2.3"/><circle cx="632" cy="941.8" r="2.3"/><circle cx="632" cy="948.3" r="2.3"/><circle cx="632" cy="954.7" r="2.3"/><circle cx="632" cy="958.5" r="2.3"/><circle cx="632" cy="967.8" r="2.3"/><circle cx="632" cy="973.5" r="2.3"/><circle cx="632.1" cy="980" r="2.3"/><circle cx="632.1" cy="985.9" r="2.3"/><circle cx="632.1" cy="990.5" r="2.3"/><circle cx="632.1" cy="996.7" r="2.3"/><circle cx="632.1" cy="1001.8" r="2.3"/><circle cx="632.1" cy="1009.9" r="2.3"/><circle cx="632.1" cy="1013.9" r="2.3"/><circle cx="632.1" cy="1020.1" r="2.3"/><circle cx="696.1" cy="862.8" r="2.3"/><circle cx="696.1" cy="846" r="2.3"/><circle cx="696.1" cy="826.9" r="2.3"/><circle cx="696.1" cy="812.6" r="2.3"/><circle cx="696.1" cy="795.8" r="2.3"/><circle cx="696.1" cy="777" r="2.3"/><circle cx="696.1" cy="761.5" r="2.3"/><circle cx="696.2" cy="766.3" r="2.3"/><circle cx="696.1" cy="865.1" r="2.3"/><circle cx="696.1" cy="874.5" r="2.3"/><circle cx="696.1" cy="879.7" r="2.3"/><circle cx="696.1" cy="884.2" r="2.3"/><circle cx="696.1" cy="890.7" r="2.3"/><circle cx="696.2" cy="897.3" r="2.3"/><circle cx="696.2" cy="903.6" r="2.3"/><circle cx="696.2" cy="908.9" r="2.3"/><circle cx="696.2" cy="917.8" r="2.3"/><circle cx="696.2" cy="924.5" r="2.3"/><circle cx="696.2" cy="928.7" r="2.3"/><circle cx="696.2" cy="935" r="2.3"/><circle cx="696.2" cy="939.7" r="2.3"/><circle cx="696.3" cy="946" r="2.3"/><circle cx="696.3" cy="953.1" r="2.3"/><circle cx="696.3" cy="959" r="2.3"/><circle cx="696.3" cy="967.3" r="2.3"/><circle cx="696.3" cy="971" r="2.3"/><circle cx="696.3" cy="976.7" r="2.3"/><circle cx="696.3" cy="986.3" r="2.3"/><circle cx="696.3" cy="991" r="2.3"/><circle cx="696.4" cy="995.7" r="2.3"/><circle cx="696.4" cy="1003.4" r="2.3"/><circle cx="696.4" cy="1007.7" r="2.3"/><circle cx="696.4" cy="1015.8" r="2.3"/><circle cx="758.9" cy="827.9" r="2.3"/><circle cx="758.9" cy="812.7" r="2.3"/><circle cx="758.9" cy="798.1" r="2.3"/><circle cx="758.9" cy="786" r="2.3"/><circle cx="758.9" cy="768.7" r="2.3"/><circle cx="758.9" cy="754.3" r="2.3"/><circle cx="758.9" cy="732.1" r="2.3"/><circle cx="758.9" cy="718.1" r="2.3"/><circle cx="758.9" cy="709.4" r="2.3"/><circle cx="759" cy="713.3" r="2.3"/><circle cx="758.9" cy="838.3" r="2.3"/><circle cx="758.9" cy="846.7" r="2.3"/><circle cx="758.9" cy="853.5" r="2.3"/><circle cx="758.9" cy="859.1" r="2.3"/><circle cx="758.9" cy="865.1" r="2.3"/><circle cx="759" cy="871.3" r="2.3"/><circle cx="759" cy="877.2" r="2.3"/><circle cx="759" cy="881.5" r="2.3"/><circle cx="759" cy="888.7" r="2.3"/><circle cx="759" cy="894.3" r="2.3"/><circle cx="759" cy="899.2" r="2.3"/><circle cx="759" cy="905.4" r="2.3"/><circle cx="759" cy="912.5" r="2.3"/><circle cx="759" cy="918.5" r="2.3"/><circle cx="759.1" cy="926.3" r="2.3"/><circle cx="759.1" cy="933.4" r="2.3"/><circle cx="759.1" cy="937.7" r="2.3"/><circle cx="759.1" cy="945.7" r="2.3"/><circle cx="759.1" cy="952" r="2.3"/><circle cx="759.1" cy="958.1" r="2.3"/><circle cx="759.1" cy="962.1" r="2.3"/><circle cx="759.1" cy="967.7" r="2.3"/><circle cx="759.1" cy="973.9" r="2.3"/><circle cx="759.1" cy="979.9" r="2.3"/><circle cx="759.2" cy="986.1" r="2.3"/><circle cx="759.2" cy="993.8" r="2.3"/><circle cx="759.2" cy="1001" r="2.3"/><circle cx="759.2" cy="1006.9" r="2.3"/><circle cx="821.7" cy="810.1" r="2.3"/><circle cx="821.7" cy="792.6" r="2.3"/><circle cx="821.7" cy="775.3" r="2.3"/><circle cx="821.7" cy="766.2" r="2.3"/><circle cx="821.7" cy="744.8" r="2.3"/><circle cx="821.7" cy="726.6" r="2.3"/><circle cx="821.7" cy="711.9" r="2.3"/><circle cx="821.7" cy="696.3" r="2.3"/><circle cx="821.7" cy="683" r="2.3"/><circle cx="821.7" cy="670" r="2.3"/><circle cx="821.7" cy="657.8" r="2.3"/><circle cx="821.7" cy="660.9" r="2.3"/><circle cx="821.8" cy="666.3" r="2.3"/><circle cx="821.7" cy="818.2" r="2.3"/><circle cx="821.7" cy="822.2" r="2.3"/><circle cx="821.7" cy="828.3" r="2.3"/><circle cx="821.7" cy="836.3" r="2.3"/><circle cx="821.7" cy="841.6" r="2.3"/><circle cx="821.7" cy="845.6" r="2.3"/><circle cx="821.8" cy="851.5" r="2.3"/><circle cx="821.8" cy="857.7" r="2.3"/><circle cx="821.8" cy="866.5" r="2.3"/><circle cx="821.8" cy="872.2" r="2.3"/><circle cx="821.8" cy="875.8" r="2.3"/><circle cx="821.8" cy="884.3" r="2.3"/><circle cx="821.8" cy="891" r="2.3"/><circle cx="821.8" cy="895.8" r="2.3"/><circle cx="821.8" cy="900.8" r="2.3"/><circle cx="821.8" cy="907.6" r="2.3"/><circle cx="821.9" cy="912.1" r="2.3"/><circle cx="821.9" cy="917.7" r="2.3"/><circle cx="821.9" cy="927.3" r="2.3"/><circle cx="821.9" cy="932.2" r="2.3"/><circle cx="821.9" cy="937.8" r="2.3"/><circle cx="821.9" cy="945.3" r="2.3"/><circle cx="821.9" cy="949.6" r="2.3"/><circle cx="821.9" cy="957.2" r="2.3"/><circle cx="821.9" cy="963.1" r="2.3"/><circle cx="821.9" cy="966.9" r="2.3"/><circle cx="822" cy="973.1" r="2.3"/><circle cx="822" cy="979.3" r="2.3"/><circle cx="822" cy="985.2" r="2.3"/><circle cx="822" cy="992.5" r="2.3"/><circle cx="822" cy="997.4" r="2.3"/><circle cx="880.9" cy="782.7" r="2.3"/><circle cx="880.9" cy="769.4" r="2.3"/><circle cx="880.9" cy="745.9" r="2.3"/><circle cx="880.9" cy="735.2" r="2.3"/><circle cx="880.9" cy="718.2" r="2.3"/><circle cx="880.9" cy="700.9" r="2.3"/><circle cx="880.9" cy="681.8" r="2.3"/><circle cx="880.9" cy="670.4" r="2.3"/><circle cx="880.9" cy="649.6" r="2.3"/><circle cx="880.9" cy="637.6" r="2.3"/><circle cx="880.9" cy="621.3" r="2.3"/><circle cx="880.9" cy="605.3" r="2.3"/><circle cx="880.9" cy="594.4" r="2.3"/><circle cx="880.9" cy="600.8" r="2.3"/><circle cx="881" cy="605.1" r="2.3"/><circle cx="880.9" cy="786.7" r="2.3"/><circle cx="880.9" cy="795.6" r="2.3"/><circle cx="880.9" cy="799.4" r="2.3"/><circle cx="880.9" cy="806.5" r="2.3"/><circle cx="880.9" cy="813.5" r="2.3"/><circle cx="880.9" cy="818.9" r="2.3"/><circle cx="881" cy="824.1" r="2.3"/><circle cx="881" cy="830.8" r="2.3"/><circle cx="881" cy="837" r="2.3"/><circle cx="881" cy="843.9" r="2.3"/><circle cx="881" cy="847.5" r="2.3"/><circle cx="881" cy="855.2" r="2.3"/><circle cx="881" cy="860.1" r="2.3"/><circle cx="881" cy="866.2" r="2.3"/><circle cx="881" cy="874" r="2.3"/><circle cx="881" cy="879.1" r="2.3"/><circle cx="881" cy="885.3" r="2.3"/><circle cx="881.1" cy="892.1" r="2.3"/><circle cx="881.1" cy="898.7" r="2.3"/><circle cx="881.1" cy="903" r="2.3"/><circle cx="881.1" cy="909.7" r="2.3"/><circle cx="881.1" cy="915.3" r="2.3"/><circle cx="881.1" cy="921.4" r="2.3"/><circle cx="881.1" cy="928.1" r="2.3"/><circle cx="881.1" cy="933.3" r="2.3"/><circle cx="881.1" cy="939.6" r="2.3"/><circle cx="881.1" cy="945.4" r="2.3"/><circle cx="881.1" cy="953.1" r="2.3"/><circle cx="881.2" cy="958.3" r="2.3"/><circle cx="881.2" cy="965" r="2.3"/><circle cx="881.2" cy="971.3" r="2.3"/><circle cx="881.2" cy="974.8" r="2.3"/><circle cx="881.2" cy="982" r="2.3"/><circle cx="881.2" cy="989.4" r="2.3"/><circle cx="938.8" cy="752.7" r="2.3"/><circle cx="938.8" cy="743.7" r="2.3"/><circle cx="938.8" cy="728.4" r="2.3"/><circle cx="938.8" cy="709.9" r="2.3"/><circle cx="938.8" cy="697.8" r="2.3"/><circle cx="938.8" cy="680.8" r="2.3"/><circle cx="938.8" cy="666.8" r="2.3"/><circle cx="938.8" cy="645.8" r="2.3"/><circle cx="938.8" cy="629.2" r="2.3"/><circle cx="938.8" cy="612.7" r="2.3"/><circle cx="938.8" cy="604.1" r="2.3"/><circle cx="938.8" cy="583.3" r="2.3"/><circle cx="938.8" cy="568.4" r="2.3"/><circle cx="938.8" cy="557.7" r="2.3"/><circle cx="938.8" cy="535.3" r="2.3"/><circle cx="938.8" cy="530.7" r="2.3"/><circle cx="938.8" cy="533.3" r="2.3"/><circle cx="938.9" cy="540" r="2.3"/><circle cx="938.9" cy="543.1" r="2.3"/><circle cx="938.8" cy="762.3" r="2.3"/><circle cx="938.8" cy="770.1" r="2.3"/><circle cx="938.8" cy="775.5" r="2.3"/><circle cx="938.8" cy="779.1" r="2.3"/><circle cx="938.8" cy="786.1" r="2.3"/><circle cx="938.8" cy="792.4" r="2.3"/><circle cx="938.9" cy="797.7" r="2.3"/><circle cx="938.9" cy="803.2" r="2.3"/><circle cx="938.9" cy="809.6" r="2.3"/><circle cx="938.9" cy="817.1" r="2.3"/><circle cx="938.9" cy="820.6" r="2.3"/><circle cx="938.9" cy="828.5" r="2.3"/><circle cx="938.9" cy="834.1" r="2.3"/><circle cx="938.9" cy="838.6" r="2.3"/><circle cx="938.9" cy="845.7" r="2.3"/><circle cx="938.9" cy="852.7" r="2.3"/><circle cx="938.9" cy="858.3" r="2.3"/><circle cx="938.9" cy="862.7" r="2.3"/><circle cx="939" cy="872" r="2.3"/><circle cx="939" cy="877.3" r="2.3"/><circle cx="939" cy="884" r="2.3"/><circle cx="939" cy="886.9" r="2.3"/><circle cx="939" cy="893.5" r="2.3"/><circle cx="939" cy="898.6" r="2.3"/><circle cx="939" cy="907.3" r="2.3"/><circle cx="939" cy="911.5" r="2.3"/><circle cx="939" cy="917" r="2.3"/><circle cx="939" cy="924" r="2.3"/><circle cx="939" cy="931.8" r="2.3"/><circle cx="939" cy="937.4" r="2.3"/><circle cx="939" cy="941.4" r="2.3"/><circle cx="939.1" cy="947" r="2.3"/><circle cx="939.1" cy="955.8" r="2.3"/><circle cx="939.1" cy="960.6" r="2.3"/><circle cx="939.1" cy="967" r="2.3"/><circle cx="939.1" cy="970.8" r="2.3"/><circle cx="939.1" cy="976.7" r="2.3"/><circle cx="992.9" cy="721.1" r="2.3"/><circle cx="992.9" cy="707.9" r="2.3"/><circle cx="992.9" cy="695.6" r="2.3"/><circle cx="992.9" cy="672" r="2.3"/><circle cx="992.9" cy="659.2" r="2.3"/><circle cx="992.9" cy="642.1" r="2.3"/><circle cx="992.9" cy="633.2" r="2.3"/><circle cx="992.9" cy="610.4" r="2.3"/><circle cx="992.9" cy="602.2" r="2.3"/><circle cx="992.9" cy="579.1" r="2.3"/><circle cx="992.9" cy="567.4" r="2.3"/><circle cx="992.9" cy="552.9" r="2.3"/><circle cx="992.9" cy="535.3" r="2.3"/><circle cx="992.9" cy="516.2" r="2.3"/><circle cx="992.9" cy="506.8" r="2.3"/><circle cx="992.9" cy="492.5" r="2.3"/><circle cx="992.9" cy="473.2" r="2.3"/><circle cx="992.9" cy="463.1" r="2.3"/><circle cx="992.9" cy="467" r="2.3"/><circle cx="992.9" cy="471.4" r="2.3"/><circle cx="993" cy="475.3" r="2.3"/><circle cx="993" cy="480" r="2.3"/><circle cx="992.9" cy="728.6" r="2.3"/><circle cx="992.9" cy="734.7" r="2.3"/><circle cx="992.9" cy="742.5" r="2.3"/><circle cx="992.9" cy="746.8" r="2.3"/><circle cx="992.9" cy="753.7" r="2.3"/><circle cx="992.9" cy="758.6" r="2.3"/><circle cx="992.9" cy="765.3" r="2.3"/><circle cx="993" cy="770.2" r="2.3"/><circle cx="993" cy="777.2" r="2.3"/><circle cx="993" cy="782.4" r="2.3"/><circle cx="993" cy="791.1" r="2.3"/><circle cx="993" cy="796.6" r="2.3"/><circle cx="993" cy="801.3" r="2.3"/><circle cx="993" cy="808.5" r="2.3"/><circle cx="993" cy="816.2" r="2.3"/><circle cx="993" cy="819.3" r="2.3"/><circle cx="993" cy="828" r="2.3"/><circle cx="993" cy="832.7" r="2.3"/><circle cx="993" cy="839" r="2.3"/><circle cx="993" cy="846.4" r="2.3"/><circle cx="993.1" cy="850.8" r="2.3"/><circle cx="993.1" cy="857.3" r="2.3"/><circle cx="993.1" cy="864.1" r="2.3"/><circle cx="993.1" cy="871.3" r="2.3"/><circle cx="993.1" cy="875" r="2.3"/><circle cx="993.1" cy="882.9" r="2.3"/><circle cx="993.1" cy="888.6" r="2.3"/><circle cx="993.1" cy="894.4" r="2.3"/><circle cx="993.1" cy="899.6" r="2.3"/><circle cx="993.1" cy="905.5" r="2.3"/><circle cx="993.1" cy="910.5" r="2.3"/><circle cx="993.1" cy="916.9" r="2.3"/><circle cx="993.1" cy="922.8" r="2.3"/><circle cx="993.2" cy="931.3" r="2.3"/><circle cx="993.2" cy="935.7" r="2.3"/><circle cx="993.2" cy="941.4" r="2.3"/><circle cx="993.2" cy="947.2" r="2.3"/><circle cx="993.2" cy="956.1" r="2.3"/><circle cx="993.2" cy="962.3" r="2.3"/><circle cx="993.2" cy="967.7" r="2.3"/><circle cx="1045.2" cy="691.4" r="2.3"/><circle cx="1045.2" cy="676.5" r="2.3"/><circle cx="1045.2" cy="660.8" r="2.3"/><circle cx="1045.2" cy="643.9" r="2.3"/><circle cx="1045.2" cy="631.4" r="2.3"/><circle cx="1045.2" cy="613.5" r="2.3"/><circle cx="1045.2" cy="599.9" r="2.3"/><circle cx="1045.2" cy="578.2" r="2.3"/><circle cx="1045.2" cy="562.8" r="2.3"/><circle cx="1045.2" cy="551.5" r="2.3"/><circle cx="1045.2" cy="539" r="2.3"/><circle cx="1045.2" cy="517.1" r="2.3"/><circle cx="1045.2" cy="507.8" r="2.3"/><circle cx="1045.2" cy="492.1" r="2.3"/><circle cx="1045.2" cy="480.1" r="2.3"/><circle cx="1045.2" cy="461.3" r="2.3"/><circle cx="1045.2" cy="445.2" r="2.3"/><circle cx="1045.2" cy="429.6" r="2.3"/><circle cx="1045.2" cy="417.1" r="2.3"/><circle cx="1045.2" cy="399.1" r="2.3"/><circle cx="1045.2" cy="388.4" r="2.3"/><circle cx="1045.2" cy="393.5" r="2.3"/><circle cx="1045.2" cy="397.4" r="2.3"/><circle cx="1045.3" cy="402.7" r="2.3"/><circle cx="1045.3" cy="406.1" r="2.3"/><circle cx="1045.2" cy="694.1" r="2.3"/><circle cx="1045.2" cy="701.1" r="2.3"/><circle cx="1045.2" cy="706.9" r="2.3"/><circle cx="1045.2" cy="714.3" r="2.3"/><circle cx="1045.2" cy="720.1" r="2.3"/><circle cx="1045.2" cy="726.9" r="2.3"/><circle cx="1045.2" cy="732.7" r="2.3"/><circle cx="1045.3" cy="738.9" r="2.3"/><circle cx="1045.3" cy="745.6" r="2.3"/><circle cx="1045.3" cy="749.8" r="2.3"/><circle cx="1045.3" cy="755.6" r="2.3"/><circle cx="1045.3" cy="764.1" r="2.3"/><circle cx="1045.3" cy="767.1" r="2.3"/><circle cx="1045.3" cy="775.2" r="2.3"/><circle cx="1045.3" cy="781" r="2.3"/><circle cx="1045.3" cy="784.8" r="2.3"/><circle cx="1045.3" cy="793.8" r="2.3"/><circle cx="1045.3" cy="800" r="2.3"/><circle cx="1045.3" cy="805.1" r="2.3"/><circle cx="1045.3" cy="811.5" r="2.3"/><circle cx="1045.3" cy="817.9" r="2.3"/><circle cx="1045.3" cy="821.5" r="2.3"/><circle cx="1045.4" cy="828.9" r="2.3"/><circle cx="1045.4" cy="834.9" r="2.3"/><circle cx="1045.4" cy="842.1" r="2.3"/><circle cx="1045.4" cy="848.1" r="2.3"/><circle cx="1045.4" cy="854.2" r="2.3"/><circle cx="1045.4" cy="859.3" r="2.3"/><circle cx="1045.4" cy="866.5" r="2.3"/><circle cx="1045.4" cy="871.8" r="2.3"/><circle cx="1045.4" cy="877.9" r="2.3"/><circle cx="1045.4" cy="882.2" r="2.3"/><circle cx="1045.4" cy="887.6" r="2.3"/><circle cx="1045.4" cy="894" r="2.3"/><circle cx="1045.4" cy="900.9" r="2.3"/><circle cx="1045.4" cy="906" r="2.3"/><circle cx="1045.4" cy="914.7" r="2.3"/><circle cx="1045.5" cy="919.7" r="2.3"/><circle cx="1045.5" cy="926" r="2.3"/><circle cx="1045.5" cy="932" r="2.3"/><circle cx="1045.5" cy="938.3" r="2.3"/><circle cx="1045.5" cy="943.6" r="2.3"/><circle cx="1045.5" cy="947.9" r="2.3"/><circle cx="1045.5" cy="956.8" r="2.3"/><circle cx="1094.8" cy="650" r="2.3"/><circle cx="1094.8" cy="636.8" r="2.3"/><circle cx="1094.8" cy="621" r="2.3"/><circle cx="1094.8" cy="604.4" r="2.3"/><circle cx="1094.8" cy="594.4" r="2.3"/><circle cx="1094.8" cy="572.6" r="2.3"/><circle cx="1094.8" cy="561.7" r="2.3"/><circle cx="1094.8" cy="547.8" r="2.3"/><circle cx="1094.8" cy="530.5" r="2.3"/><circle cx="1094.8" cy="510.7" r="2.3"/><circle cx="1094.8" cy="500.1" r="2.3"/><circle cx="1094.8" cy="479.6" r="2.3"/><circle cx="1094.8" cy="461.9" r="2.3"/><circle cx="1094.8" cy="450.9" r="2.3"/><circle cx="1094.8" cy="436.4" r="2.3"/><circle cx="1094.8" cy="420" r="2.3"/><circle cx="1094.8" cy="402.6" r="2.3"/><circle cx="1094.8" cy="386.4" r="2.3"/><circle cx="1094.8" cy="372.3" r="2.3"/><circle cx="1094.8" cy="356.5" r="2.3"/><circle cx="1094.8" cy="346.3" r="2.3"/><circle cx="1094.8" cy="330.1" r="2.3"/><circle cx="1094.8" cy="313.6" r="2.3"/><circle cx="1094.8" cy="302.5" r="2.3"/><circle cx="1094.8" cy="305.7" r="2.3"/><circle cx="1094.8" cy="310.8" r="2.3"/><circle cx="1094.9" cy="313.7" r="2.3"/><circle cx="1094.9" cy="318.3" r="2.3"/><circle cx="1094.8" cy="658" r="2.3"/><circle cx="1094.8" cy="665.5" r="2.3"/><circle cx="1094.8" cy="671.6" r="2.3"/><circle cx="1094.8" cy="677.6" r="2.3"/><circle cx="1094.8" cy="682.3" r="2.3"/><circle cx="1094.8" cy="689.1" r="2.3"/><circle cx="1094.8" cy="695" r="2.3"/><circle cx="1094.8" cy="701.1" r="2.3"/><circle cx="1094.9" cy="705.8" r="2.3"/><circle cx="1094.9" cy="714.7" r="2.3"/><circle cx="1094.9" cy="718.2" r="2.3"/><circle cx="1094.9" cy="727.1" r="2.3"/><circle cx="1094.9" cy="733" r="2.3"/><circle cx="1094.9" cy="735.7" r="2.3"/><circle cx="1094.9" cy="743.4" r="2.3"/><circle cx="1094.9" cy="750.8" r="2.3"/><circle cx="1094.9" cy="757.3" r="2.3"/><circle cx="1094.9" cy="761.5" r="2.3"/><circle cx="1094.9" cy="766.9" r="2.3"/><circle cx="1094.9" cy="772.8" r="2.3"/><circle cx="1094.9" cy="781.5" r="2.3"/><circle cx="1094.9" cy="784.9" r="2.3"/><circle cx="1094.9" cy="792.3" r="2.3"/><circle cx="1094.9" cy="796.7" r="2.3"/><circle cx="1095" cy="804.2" r="2.3"/><circle cx="1095" cy="811.8" r="2.3"/><circle cx="1095" cy="814.8" r="2.3"/><circle cx="1095" cy="823.4" r="2.3"/><circle cx="1095" cy="828.3" r="2.3"/><circle cx="1095" cy="835.7" r="2.3"/><circle cx="1095" cy="841.1" r="2.3"/><circle cx="1095" cy="845.5" r="2.3"/><circle cx="1095" cy="853.9" r="2.3"/><circle cx="1095" cy="858.5" r="2.3"/><circle cx="1095" cy="862.9" r="2.3"/><circle cx="1095" cy="868.8" r="2.3"/><circle cx="1095" cy="876.7" r="2.3"/><circle cx="1095" cy="882.6" r="2.3"/><circle cx="1095" cy="888.1" r="2.3"/><circle cx="1095" cy="893.5" r="2.3"/><circle cx="1095.1" cy="900.3" r="2.3"/><circle cx="1095.1" cy="906.3" r="2.3"/><circle cx="1095.1" cy="914.2" r="2.3"/><circle cx="1095.1" cy="917.2" r="2.3"/><circle cx="1095.1" cy="926" r="2.3"/><circle cx="1095.1" cy="932.4" r="2.3"/><circle cx="1095.1" cy="935.8" r="2.3"/><circle cx="1095.1" cy="944.8" r="2.3"/><circle cx="1141.6" cy="612.4" r="2.3"/><circle cx="1141.6" cy="595.3" r="2.3"/><circle cx="1141.6" cy="585.6" r="2.3"/><circle cx="1141.6" cy="569.4" r="2.3"/><circle cx="1141.6" cy="553.8" r="2.3"/><circle cx="1141.6" cy="532.9" r="2.3"/><circle cx="1141.6" cy="521.3" r="2.3"/><circle cx="1141.6" cy="508" r="2.3"/><circle cx="1141.6" cy="492" r="2.3"/><circle cx="1141.6" cy="478" r="2.3"/><circle cx="1141.6" cy="464.7" r="2.3"/><circle cx="1141.6" cy="448.8" r="2.3"/><circle cx="1141.6" cy="426.7" r="2.3"/><circle cx="1141.6" cy="416.4" r="2.3"/><circle cx="1141.6" cy="395" r="2.3"/><circle cx="1141.6" cy="385.9" r="2.3"/><circle cx="1141.6" cy="370.4" r="2.3"/><circle cx="1141.6" cy="352.7" r="2.3"/><circle cx="1141.6" cy="340.3" r="2.3"/><circle cx="1141.6" cy="323.2" r="2.3"/><circle cx="1141.6" cy="302.5" r="2.3"/><circle cx="1141.6" cy="287.7" r="2.3"/><circle cx="1141.6" cy="273" r="2.3"/><circle cx="1141.6" cy="259.3" r="2.3"/><circle cx="1141.6" cy="241.3" r="2.3"/><circle cx="1141.6" cy="225.7" r="2.3"/><circle cx="1141.6" cy="213.9" r="2.3"/><circle cx="1141.6" cy="205.5" r="2.3"/><circle cx="1141.6" cy="208.1" r="2.3"/><circle cx="1141.6" cy="214.3" r="2.3"/><circle cx="1141.7" cy="218" r="2.3"/><circle cx="1141.7" cy="223.2" r="2.3"/><circle cx="1141.6" cy="621.3" r="2.3"/><circle cx="1141.6" cy="626.1" r="2.3"/><circle cx="1141.6" cy="631.3" r="2.3"/><circle cx="1141.6" cy="640.5" r="2.3"/><circle cx="1141.6" cy="643.6" r="2.3"/><circle cx="1141.6" cy="650.9" r="2.3"/><circle cx="1141.6" cy="656.5" r="2.3"/><circle cx="1141.6" cy="662.3" r="2.3"/><circle cx="1141.6" cy="670" r="2.3"/><circle cx="1141.7" cy="676.9" r="2.3"/><circle cx="1141.7" cy="680.3" r="2.3"/><circle cx="1141.7" cy="687.8" r="2.3"/><circle cx="1141.7" cy="692.6" r="2.3"/><circle cx="1141.7" cy="699.5" r="2.3"/><circle cx="1141.7" cy="705" r="2.3"/><circle cx="1141.7" cy="710.2" r="2.3"/><circle cx="1141.7" cy="716.2" r="2.3"/><circle cx="1141.7" cy="722.4" r="2.3"/><circle cx="1141.7" cy="731" r="2.3"/><circle cx="1141.7" cy="735.5" r="2.3"/><circle cx="1141.7" cy="740.6" r="2.3"/><circle cx="1141.7" cy="749.1" r="2.3"/><circle cx="1141.7" cy="755.5" r="2.3"/><circle cx="1141.7" cy="759.5" r="2.3"/><circle cx="1141.7" cy="764.4" r="2.3"/><circle cx="1141.7" cy="770.7" r="2.3"/><circle cx="1141.8" cy="776.3" r="2.3"/><circle cx="1141.8" cy="783.3" r="2.3"/><circle cx="1141.8" cy="788.4" r="2.3"/><circle cx="1141.8" cy="795" r="2.3"/><circle cx="1141.8" cy="801.1" r="2.3"/><circle cx="1141.8" cy="808.3" r="2.3"/><circle cx="1141.8" cy="815.4" r="2.3"/><circle cx="1141.8" cy="821" r="2.3"/><circle cx="1141.8" cy="825.8" r="2.3"/><circle cx="1141.8" cy="831.8" r="2.3"/><circle cx="1141.8" cy="838.3" r="2.3"/><circle cx="1141.8" cy="843.8" r="2.3"/><circle cx="1141.8" cy="849.7" r="2.3"/><circle cx="1141.8" cy="854.7" r="2.3"/><circle cx="1141.8" cy="861.5" r="2.3"/><circle cx="1141.8" cy="870.1" r="2.3"/><circle cx="1141.8" cy="873.1" r="2.3"/><circle cx="1141.8" cy="880.5" r="2.3"/><circle cx="1141.9" cy="887" r="2.3"/><circle cx="1141.9" cy="893.9" r="2.3"/><circle cx="1141.9" cy="897.6" r="2.3"/><circle cx="1141.9" cy="903.8" r="2.3"/><circle cx="1141.9" cy="909.7" r="2.3"/><circle cx="1141.9" cy="916.3" r="2.3"/><circle cx="1141.9" cy="922.5" r="2.3"/><circle cx="1141.9" cy="930.4" r="2.3"/><circle cx="1186.1" cy="564.2" r="2.3"/><circle cx="1186.1" cy="548.7" r="2.3"/><circle cx="1186.1" cy="541.2" r="2.3"/><circle cx="1186.1" cy="525.8" r="2.3"/><circle cx="1186.1" cy="504.3" r="2.3"/><circle cx="1186.1" cy="487.4" r="2.3"/><circle cx="1186.1" cy="475.9" r="2.3"/><circle cx="1186.1" cy="459.6" r="2.3"/><circle cx="1186.1" cy="449.7" r="2.3"/><circle cx="1186.1" cy="430.8" r="2.3"/><circle cx="1186.1" cy="410.6" r="2.3"/><circle cx="1186.1" cy="396.3" r="2.3"/><circle cx="1186.1" cy="380.7" r="2.3"/><circle cx="1186.1" cy="364.4" r="2.3"/><circle cx="1186.1" cy="355.7" r="2.3"/><circle cx="1186.1" cy="341.7" r="2.3"/><circle cx="1186.1" cy="326" r="2.3"/><circle cx="1186.1" cy="307.4" r="2.3"/><circle cx="1186.1" cy="290.6" r="2.3"/><circle cx="1186.1" cy="272.9" r="2.3"/><circle cx="1186.1" cy="259.7" r="2.3"/><circle cx="1186.1" cy="245.1" r="2.3"/><circle cx="1186.1" cy="228.7" r="2.3"/><circle cx="1186.1" cy="216.2" r="2.3"/><circle cx="1186.1" cy="200.1" r="2.3"/><circle cx="1186.1" cy="189.5" r="2.3"/><circle cx="1186.1" cy="167.4" r="2.3"/><circle cx="1186.1" cy="157.2" r="2.3"/><circle cx="1186.1" cy="575.3" r="2.3"/><circle cx="1186.1" cy="580.4" r="2.3"/><circle cx="1186.1" cy="585.2" r="2.3"/><circle cx="1186.1" cy="590.6" r="2.3"/><circle cx="1186.1" cy="597.1" r="2.3"/><circle cx="1186.1" cy="604.6" r="2.3"/><circle cx="1186.1" cy="610.9" r="2.3"/><circle cx="1186.1" cy="614.8" r="2.3"/><circle cx="1186.1" cy="620.7" r="2.3"/><circle cx="1186.1" cy="628.4" r="2.3"/><circle cx="1186.2" cy="634.6" r="2.3"/><circle cx="1186.2" cy="640" r="2.3"/><circle cx="1186.2" cy="645.4" r="2.3"/><circle cx="1186.2" cy="652.9" r="2.3"/><circle cx="1186.2" cy="656.8" r="2.3"/><circle cx="1186.2" cy="663.9" r="2.3"/><circle cx="1186.2" cy="670.5" r="2.3"/><circle cx="1186.2" cy="678.4" r="2.3"/><circle cx="1186.2" cy="683.3" r="2.3"/><circle cx="1186.2" cy="690.2" r="2.3"/><circle cx="1186.2" cy="694.8" r="2.3"/><circle cx="1186.2" cy="700" r="2.3"/><circle cx="1186.2" cy="706.1" r="2.3"/><circle cx="1186.2" cy="714.7" r="2.3"/><circle cx="1186.2" cy="719.8" r="2.3"/><circle cx="1186.2" cy="724.4" r="2.3"/><circle cx="1186.2" cy="729.4" r="2.3"/><circle cx="1186.2" cy="737.2" r="2.3"/><circle cx="1186.2" cy="743.9" r="2.3"/><circle cx="1186.3" cy="749.1" r="2.3"/><circle cx="1186.3" cy="754.5" r="2.3"/><circle cx="1186.3" cy="762.1" r="2.3"/><circle cx="1186.3" cy="769" r="2.3"/><circle cx="1186.3" cy="772.6" r="2.3"/><circle cx="1186.3" cy="777.9" r="2.3"/><circle cx="1186.3" cy="785.1" r="2.3"/><circle cx="1186.3" cy="791.4" r="2.3"/><circle cx="1186.3" cy="798.4" r="2.3"/><circle cx="1186.3" cy="802.7" r="2.3"/><circle cx="1186.3" cy="810.9" r="2.3"/><circle cx="1186.3" cy="816.8" r="2.3"/><circle cx="1186.3" cy="822" r="2.3"/><circle cx="1186.3" cy="827" r="2.3"/><circle cx="1186.3" cy="835.8" r="2.3"/><circle cx="1186.3" cy="839.4" r="2.3"/><circle cx="1186.3" cy="847.3" r="2.3"/><circle cx="1186.3" cy="851.3" r="2.3"/><circle cx="1186.3" cy="857.3" r="2.3"/><circle cx="1186.4" cy="865.3" r="2.3"/><circle cx="1186.4" cy="869.7" r="2.3"/><circle cx="1186.4" cy="878.1" r="2.3"/><circle cx="1186.4" cy="882.5" r="2.3"/><circle cx="1186.4" cy="887.4" r="2.3"/><circle cx="1186.4" cy="893.6" r="2.3"/><circle cx="1186.4" cy="900.4" r="2.3"/><circle cx="1186.4" cy="907.3" r="2.3"/><circle cx="1186.4" cy="914.4" r="2.3"/><circle cx="1228.1" cy="520.7" r="2.3"/><circle cx="1228.1" cy="503.3" r="2.3"/><circle cx="1228.1" cy="489.8" r="2.3"/><circle cx="1228.1" cy="467.8" r="2.3"/><circle cx="1228.1" cy="460.2" r="2.3"/><circle cx="1228.1" cy="445.9" r="2.3"/><circle cx="1228.1" cy="430.7" r="2.3"/><circle cx="1228.1" cy="412.6" r="2.3"/><circle cx="1228.1" cy="392.9" r="2.3"/><circle cx="1228.1" cy="377.9" r="2.3"/><circle cx="1228.1" cy="364.2" r="2.3"/><circle cx="1228.1" cy="346.6" r="2.3"/><circle cx="1228.1" cy="332.1" r="2.3"/><circle cx="1228.1" cy="322.5" r="2.3"/><circle cx="1228.1" cy="308.6" r="2.3"/><circle cx="1228.1" cy="286.7" r="2.3"/><circle cx="1228.1" cy="273.3" r="2.3"/><circle cx="1228.1" cy="264.7" r="2.3"/><circle cx="1228.1" cy="243.8" r="2.3"/><circle cx="1228.1" cy="231.3" r="2.3"/><circle cx="1228.1" cy="216.2" r="2.3"/><circle cx="1228.1" cy="201.5" r="2.3"/><circle cx="1228.1" cy="187.8" r="2.3"/><circle cx="1228.1" cy="174.2" r="2.3"/><circle cx="1228.1" cy="156.6" r="2.3"/><circle cx="1228.1" cy="523.3" r="2.3"/><circle cx="1228.1" cy="531.4" r="2.3"/><circle cx="1228.1" cy="534.4" r="2.3"/><circle cx="1228.1" cy="543.5" r="2.3"/><circle cx="1228.1" cy="546.7" r="2.3"/><circle cx="1228.1" cy="553.3" r="2.3"/><circle cx="1228.1" cy="561" r="2.3"/><circle cx="1228.1" cy="567" r="2.3"/><circle cx="1228.1" cy="571.6" r="2.3"/><circle cx="1228.1" cy="576.2" r="2.3"/><circle cx="1228.1" cy="583.7" r="2.3"/><circle cx="1228.2" cy="589.3" r="2.3"/><circle cx="1228.2" cy="597.3" r="2.3"/><circle cx="1228.2" cy="600.7" r="2.3"/><circle cx="1228.2" cy="607.3" r="2.3"/><circle cx="1228.2" cy="615.2" r="2.3"/><circle cx="1228.2" cy="618.1" r="2.3"/><circle cx="1228.2" cy="625.5" r="2.3"/><circle cx="1228.2" cy="632.9" r="2.3"/><circle cx="1228.2" cy="638.8" r="2.3"/><circle cx="1228.2" cy="642.1" r="2.3"/><circle cx="1228.2" cy="648.1" r="2.3"/><circle cx="1228.2" cy="654.2" r="2.3"/><circle cx="1228.2" cy="663.3" r="2.3"/><circle cx="1228.2" cy="666.9" r="2.3"/><circle cx="1228.2" cy="674.7" r="2.3"/><circle cx="1228.2" cy="681.2" r="2.3"/><circle cx="1228.2" cy="685.2" r="2.3"/><circle cx="1228.2" cy="691" r="2.3"/><circle cx="1228.2" cy="699.4" r="2.3"/><circle cx="1228.2" cy="704.2" r="2.3"/><circle cx="1228.2" cy="708.9" r="2.3"/><circle cx="1228.3" cy="716.6" r="2.3"/><circle cx="1228.3" cy="721.1" r="2.3"/><circle cx="1228.3" cy="727" r="2.3"/><circle cx="1228.3" cy="732" r="2.3"/><circle cx="1228.3" cy="740.7" r="2.3"/><circle cx="1228.3" cy="747.3" r="2.3"/><circle cx="1228.3" cy="752.3" r="2.3"/><circle cx="1228.3" cy="759.4" r="2.3"/><circle cx="1228.3" cy="762.1" r="2.3"/><circle cx="1228.3" cy="768.8" r="2.3"/><circle cx="1228.3" cy="775.7" r="2.3"/><circle cx="1228.3" cy="783.4" r="2.3"/><circle cx="1228.3" cy="789.4" r="2.3"/><circle cx="1228.3" cy="793.4" r="2.3"/><circle cx="1228.3" cy="798.9" r="2.3"/><circle cx="1228.3" cy="805.5" r="2.3"/><circle cx="1228.3" cy="811.8" r="2.3"/><circle cx="1228.3" cy="819.3" r="2.3"/><circle cx="1228.3" cy="822.7" r="2.3"/><circle cx="1228.3" cy="830.9" r="2.3"/><circle cx="1228.3" cy="836.7" r="2.3"/><circle cx="1228.4" cy="843" r="2.3"/><circle cx="1228.4" cy="848.8" r="2.3"/><circle cx="1228.4" cy="854.2" r="2.3"/><circle cx="1228.4" cy="859.2" r="2.3"/><circle cx="1228.4" cy="865.2" r="2.3"/><circle cx="1228.4" cy="871.3" r="2.3"/><circle cx="1228.4" cy="878.8" r="2.3"/><circle cx="1228.4" cy="882.3" r="2.3"/><circle cx="1228.4" cy="888.7" r="2.3"/><circle cx="1228.4" cy="896.7" r="2.3"/><circle cx="1267.9" cy="461.7" r="2.3"/><circle cx="1267.9" cy="448.2" r="2.3"/><circle cx="1267.9" cy="433.2" r="2.3"/><circle cx="1267.9" cy="413.2" r="2.3"/><circle cx="1267.9" cy="400.1" r="2.3"/><circle cx="1267.9" cy="378.8" r="2.3"/><circle cx="1267.9" cy="364.5" r="2.3"/><circle cx="1267.9" cy="348.3" r="2.3"/><circle cx="1267.9" cy="339.7" r="2.3"/><circle cx="1267.9" cy="326.1" r="2.3"/><circle cx="1267.9" cy="310.7" r="2.3"/><circle cx="1267.9" cy="291.8" r="2.3"/><circle cx="1267.9" cy="274.7" r="2.3"/><circle cx="1267.9" cy="261.8" r="2.3"/><circle cx="1267.9" cy="248.5" r="2.3"/><circle cx="1267.9" cy="231.6" r="2.3"/><circle cx="1267.9" cy="214.5" r="2.3"/><circle cx="1267.9" cy="198.8" r="2.3"/><circle cx="1267.9" cy="182.9" r="2.3"/><circle cx="1267.9" cy="166.7" r="2.3"/><circle cx="1267.9" cy="153.2" r="2.3"/><circle cx="1267.9" cy="464.4" r="2.3"/><circle cx="1267.9" cy="473.1" r="2.3"/><circle cx="1267.9" cy="477.2" r="2.3"/><circle cx="1267.9" cy="484.2" r="2.3"/><circle cx="1267.9" cy="489.6" r="2.3"/><circle cx="1267.9" cy="497" r="2.3"/><circle cx="1267.9" cy="501.1" r="2.3"/><circle cx="1267.9" cy="507.3" r="2.3"/><circle cx="1267.9" cy="513.4" r="2.3"/><circle cx="1267.9" cy="519.1" r="2.3"/><circle cx="1267.9" cy="527.8" r="2.3"/><circle cx="1267.9" cy="532.7" r="2.3"/><circle cx="1268" cy="537.9" r="2.3"/><circle cx="1268" cy="544.2" r="2.3"/><circle cx="1268" cy="552.4" r="2.3"/><circle cx="1268" cy="556.7" r="2.3"/><circle cx="1268" cy="561.8" r="2.3"/><circle cx="1268" cy="569.9" r="2.3"/><circle cx="1268" cy="575.4" r="2.3"/><circle cx="1268" cy="582.7" r="2.3"/><circle cx="1268" cy="585.5" r="2.3"/><circle cx="1268" cy="592.9" r="2.3"/><circle cx="1268" cy="600.3" r="2.3"/><circle cx="1268" cy="606.4" r="2.3"/><circle cx="1268" cy="612.7" r="2.3"/><circle cx="1268" cy="615.6" r="2.3"/><circle cx="1268" cy="622.6" r="2.3"/><circle cx="1268" cy="628" r="2.3"/><circle cx="1268" cy="634.3" r="2.3"/><circle cx="1268" cy="643.2" r="2.3"/><circle cx="1268" cy="647.9" r="2.3"/><circle cx="1268" cy="655.2" r="2.3"/><circle cx="1268" cy="659.2" r="2.3"/><circle cx="1268" cy="667.1" r="2.3"/><circle cx="1268" cy="671.6" r="2.3"/><circle cx="1268.1" cy="677" r="2.3"/><circle cx="1268.1" cy="684.9" r="2.3"/><circle cx="1268.1" cy="691.6" r="2.3"/><circle cx="1268.1" cy="694.6" r="2.3"/><circle cx="1268.1" cy="702.4" r="2.3"/><circle cx="1268.1" cy="708.6" r="2.3"/><circle cx="1268.1" cy="713.2" r="2.3"/><circle cx="1268.1" cy="719.8" r="2.3"/><circle cx="1268.1" cy="725" r="2.3"/><circle cx="1268.1" cy="731.3" r="2.3"/><circle cx="1268.1" cy="737.5" r="2.3"/><circle cx="1268.1" cy="744.8" r="2.3"/><circle cx="1268.1" cy="751.1" r="2.3"/><circle cx="1268.1" cy="755.5" r="2.3"/><circle cx="1268.1" cy="760.9" r="2.3"/><circle cx="1268.1" cy="768.1" r="2.3"/><circle cx="1268.1" cy="775.4" r="2.3"/><circle cx="1268.1" cy="779.7" r="2.3"/><circle cx="1268.1" cy="786.2" r="2.3"/><circle cx="1268.1" cy="791.9" r="2.3"/><circle cx="1268.1" cy="800.1" r="2.3"/><circle cx="1268.1" cy="805.2" r="2.3"/><circle cx="1268.1" cy="809.5" r="2.3"/><circle cx="1268.2" cy="815.7" r="2.3"/><circle cx="1268.2" cy="822.9" r="2.3"/><circle cx="1268.2" cy="829.5" r="2.3"/><circle cx="1268.2" cy="835.9" r="2.3"/><circle cx="1268.2" cy="839.9" r="2.3"/><circle cx="1268.2" cy="846.2" r="2.3"/><circle cx="1268.2" cy="854.2" r="2.3"/><circle cx="1268.2" cy="859.3" r="2.3"/><circle cx="1268.2" cy="864.9" r="2.3"/><circle cx="1268.2" cy="871" r="2.3"/><circle cx="1268.2" cy="879.4" r="2.3"/><circle cx="1305.9" cy="395" r="2.3"/><circle cx="1305.9" cy="376.7" r="2.3"/><circle cx="1305.9" cy="362.8" r="2.3"/><circle cx="1305.9" cy="346.4" r="2.3"/><circle cx="1305.9" cy="326.3" r="2.3"/><circle cx="1305.9" cy="309.1" r="2.3"/><circle cx="1305.9" cy="299.3" r="2.3"/><circle cx="1305.9" cy="285" r="2.3"/><circle cx="1305.9" cy="264.1" r="2.3"/><circle cx="1305.9" cy="253.2" r="2.3"/><circle cx="1305.9" cy="239.2" r="2.3"/><circle cx="1305.9" cy="214.8" r="2.3"/><circle cx="1305.9" cy="203.5" r="2.3"/><circle cx="1305.9" cy="183.8" r="2.3"/><circle cx="1305.9" cy="171.9" r="2.3"/><circle cx="1305.9" cy="151.5" r="2.3"/><circle cx="1305.9" cy="399.7" r="2.3"/><circle cx="1305.9" cy="404.6" r="2.3"/><circle cx="1305.9" cy="410.1" r="2.3"/><circle cx="1305.9" cy="418" r="2.3"/><circle cx="1305.9" cy="424.3" r="2.3"/><circle cx="1305.9" cy="431.3" r="2.3"/><circle cx="1305.9" cy="434.4" r="2.3"/><circle cx="1305.9" cy="442.3" r="2.3"/><circle cx="1305.9" cy="447.4" r="2.3"/><circle cx="1305.9" cy="453.9" r="2.3"/><circle cx="1305.9" cy="458.6" r="2.3"/><circle cx="1305.9" cy="465.1" r="2.3"/><circle cx="1305.9" cy="472" r="2.3"/><circle cx="1306" cy="479.5" r="2.3"/><circle cx="1306" cy="482.5" r="2.3"/><circle cx="1306" cy="489.9" r="2.3"/><circle cx="1306" cy="497" r="2.3"/><circle cx="1306" cy="503.6" r="2.3"/><circle cx="1306" cy="506.9" r="2.3"/><circle cx="1306" cy="512.6" r="2.3"/><circle cx="1306" cy="521.6" r="2.3"/><circle cx="1306" cy="527.7" r="2.3"/><circle cx="1306" cy="531.9" r="2.3"/><circle cx="1306" cy="536.4" r="2.3"/><circle cx="1306" cy="545.6" r="2.3"/><circle cx="1306" cy="549.6" r="2.3"/><circle cx="1306" cy="557.5" r="2.3"/><circle cx="1306" cy="562.5" r="2.3"/><circle cx="1306" cy="569.2" r="2.3"/><circle cx="1306" cy="572.8" r="2.3"/><circle cx="1306" cy="581.1" r="2.3"/><circle cx="1306" cy="585.1" r="2.3"/><circle cx="1306" cy="591.7" r="2.3"/><circle cx="1306" cy="599.4" r="2.3"/><circle cx="1306" cy="605.3" r="2.3"/><circle cx="1306" cy="609" r="2.3"/><circle cx="1306" cy="615.1" r="2.3"/><circle cx="1306" cy="621.8" r="2.3"/><circle cx="1306" cy="628.2" r="2.3"/><circle cx="1306.1" cy="633.7" r="2.3"/><circle cx="1306.1" cy="638.8" r="2.3"/><circle cx="1306.1" cy="645.3" r="2.3"/><circle cx="1306.1" cy="653" r="2.3"/><circle cx="1306.1" cy="659.6" r="2.3"/><circle cx="1306.1" cy="662.5" r="2.3"/><circle cx="1306.1" cy="670.4" r="2.3"/><circle cx="1306.1" cy="677.1" r="2.3"/><circle cx="1306.1" cy="680.6" r="2.3"/><circle cx="1306.1" cy="689.5" r="2.3"/><circle cx="1306.1" cy="692.9" r="2.3"/><circle cx="1306.1" cy="700.6" r="2.3"/><circle cx="1306.1" cy="706.4" r="2.3"/><circle cx="1306.1" cy="712.7" r="2.3"/><circle cx="1306.1" cy="717.6" r="2.3"/><circle cx="1306.1" cy="724" r="2.3"/><circle cx="1306.1" cy="730.6" r="2.3"/><circle cx="1306.1" cy="736" r="2.3"/><circle cx="1306.1" cy="742.9" r="2.3"/><circle cx="1306.1" cy="748.1" r="2.3"/><circle cx="1306.1" cy="754.1" r="2.3"/><circle cx="1306.1" cy="758.6" r="2.3"/><circle cx="1306.1" cy="766.8" r="2.3"/><circle cx="1306.1" cy="772.3" r="2.3"/><circle cx="1306.1" cy="777.4" r="2.3"/><circle cx="1306.2" cy="785.3" r="2.3"/><circle cx="1306.2" cy="791.4" r="2.3"/><circle cx="1306.2" cy="796.3" r="2.3"/><circle cx="1306.2" cy="801.3" r="2.3"/><circle cx="1306.2" cy="808.3" r="2.3"/><circle cx="1306.2" cy="813" r="2.3"/><circle cx="1306.2" cy="819.1" r="2.3"/><circle cx="1306.2" cy="826.2" r="2.3"/><circle cx="1306.2" cy="831" r="2.3"/><circle cx="1306.2" cy="838.3" r="2.3"/><circle cx="1306.2" cy="844.5" r="2.3"/><circle cx="1306.2" cy="848.8" r="2.3"/><circle cx="1306.2" cy="857" r="2.3"/><circle cx="1342.2" cy="319.2" r="2.3"/><circle cx="1342.2" cy="297" r="2.3"/><circle cx="1342.2" cy="280.5" r="2.3"/><circle cx="1342.2" cy="267.1" r="2.3"/><circle cx="1342.2" cy="255.5" r="2.3"/><circle cx="1342.2" cy="235.2" r="2.3"/><circle cx="1342.2" cy="220.4" r="2.3"/><circle cx="1342.2" cy="198.9" r="2.3"/><circle cx="1342.2" cy="190.7" r="2.3"/><circle cx="1342.2" cy="167.8" r="2.3"/><circle cx="1342.2" cy="150.4" r="2.3"/><circle cx="1342.2" cy="322.6" r="2.3"/><circle cx="1342.2" cy="329" r="2.3"/><circle cx="1342.2" cy="332.7" r="2.3"/><circle cx="1342.2" cy="341.6" r="2.3"/><circle cx="1342.2" cy="345.9" r="2.3"/><circle cx="1342.2" cy="353.6" r="2.3"/><circle cx="1342.2" cy="359.5" r="2.3"/><circle cx="1342.2" cy="362.8" r="2.3"/><circle cx="1342.2" cy="371" r="2.3"/><circle cx="1342.2" cy="377.6" r="2.3"/><circle cx="1342.2" cy="380.5" r="2.3"/><circle cx="1342.2" cy="387.5" r="2.3"/><circle cx="1342.2" cy="395" r="2.3"/><circle cx="1342.2" cy="398.9" r="2.3"/><circle cx="1342.3" cy="407.6" r="2.3"/><circle cx="1342.3" cy="411.3" r="2.3"/><circle cx="1342.3" cy="419.3" r="2.3"/><circle cx="1342.3" cy="422.9" r="2.3"/><circle cx="1342.3" cy="430.2" r="2.3"/><circle cx="1342.3" cy="437.8" r="2.3"/><circle cx="1342.3" cy="441.2" r="2.3"/><circle cx="1342.3" cy="447.4" r="2.3"/><circle cx="1342.3" cy="454.3" r="2.3"/><circle cx="1342.3" cy="459.7" r="2.3"/><circle cx="1342.3" cy="464.7" r="2.3"/><circle cx="1342.3" cy="471.2" r="2.3"/><circle cx="1342.3" cy="477.2" r="2.3"/><circle cx="1342.3" cy="486" r="2.3"/><circle cx="1342.3" cy="491.1" r="2.3"/><circle cx="1342.3" cy="497.9" r="2.3"/><circle cx="1342.3" cy="501.3" r="2.3"/><circle cx="1342.3" cy="509.6" r="2.3"/><circle cx="1342.3" cy="513.2" r="2.3"/><circle cx="1342.3" cy="520.7" r="2.3"/><circle cx="1342.3" cy="527.1" r="2.3"/><circle cx="1342.3" cy="532.1" r="2.3"/><circle cx="1342.3" cy="540" r="2.3"/><circle cx="1342.3" cy="544.9" r="2.3"/><circle cx="1342.3" cy="551" r="2.3"/><circle cx="1342.3" cy="558.1" r="2.3"/><circle cx="1342.3" cy="561.3" r="2.3"/><circle cx="1342.3" cy="570.5" r="2.3"/><circle cx="1342.3" cy="575.3" r="2.3"/><circle cx="1342.4" cy="580.4" r="2.3"/><circle cx="1342.4" cy="587.9" r="2.3"/><circle cx="1342.4" cy="592" r="2.3"/><circle cx="1342.4" cy="600.6" r="2.3"/><circle cx="1342.4" cy="605.2" r="2.3"/><circle cx="1342.4" cy="610.4" r="2.3"/><circle cx="1342.4" cy="617.9" r="2.3"/><circle cx="1342.4" cy="622.8" r="2.3"/><circle cx="1342.4" cy="627.8" r="2.3"/><circle cx="1342.4" cy="635.9" r="2.3"/><circle cx="1342.4" cy="639.4" r="2.3"/><circle cx="1342.4" cy="648.2" r="2.3"/><circle cx="1342.4" cy="652.2" r="2.3"/><circle cx="1342.4" cy="659.6" r="2.3"/><circle cx="1342.4" cy="666.9" r="2.3"/><circle cx="1342.4" cy="671.5" r="2.3"/><circle cx="1342.4" cy="677.8" r="2.3"/><circle cx="1342.4" cy="682.5" r="2.3"/><circle cx="1342.4" cy="687.4" r="2.3"/><circle cx="1342.4" cy="693.6" r="2.3"/><circle cx="1342.4" cy="700" r="2.3"/><circle cx="1342.4" cy="707.7" r="2.3"/><circle cx="1342.4" cy="713.1" r="2.3"/><circle cx="1342.4" cy="719.4" r="2.3"/><circle cx="1342.4" cy="726.8" r="2.3"/><circle cx="1342.4" cy="730.1" r="2.3"/><circle cx="1342.4" cy="736.4" r="2.3"/><circle cx="1342.4" cy="744" r="2.3"/><circle cx="1342.4" cy="747.7" r="2.3"/><circle cx="1342.5" cy="753.7" r="2.3"/><circle cx="1342.5" cy="761" r="2.3"/><circle cx="1342.5" cy="766.1" r="2.3"/><circle cx="1342.5" cy="773" r="2.3"/><circle cx="1342.5" cy="778.6" r="2.3"/><circle cx="1342.5" cy="785.9" r="2.3"/><circle cx="1342.5" cy="791.9" r="2.3"/><circle cx="1342.5" cy="796.6" r="2.3"/><circle cx="1342.5" cy="804.1" r="2.3"/><circle cx="1342.5" cy="809.6" r="2.3"/><circle cx="1342.5" cy="814.4" r="2.3"/><circle cx="1342.5" cy="823.3" r="2.3"/><circle cx="1342.5" cy="826.8" r="2.3"/><circle cx="1342.5" cy="832.5" r="2.3"/><circle cx="1376.2" cy="216.9" r="2.3"/><circle cx="1376.2" cy="192.4" r="2.3"/><circle cx="1376.2" cy="171.3" r="2.3"/><circle cx="1376.2" cy="153.8" r="2.3"/><circle cx="1376.2" cy="219.5" r="2.3"/><circle cx="1376.2" cy="225" r="2.3"/><circle cx="1376.2" cy="230.1" r="2.3"/><circle cx="1376.2" cy="238.5" r="2.3"/><circle cx="1376.2" cy="244.2" r="2.3"/><circle cx="1376.2" cy="249.5" r="2.3"/><circle cx="1376.2" cy="256.6" r="2.3"/><circle cx="1376.2" cy="261.9" r="2.3"/><circle cx="1376.2" cy="269.8" r="2.3"/><circle cx="1376.2" cy="275.1" r="2.3"/><circle cx="1376.2" cy="279.4" r="2.3"/><circle cx="1376.2" cy="287.8" r="2.3"/><circle cx="1376.2" cy="290.7" r="2.3"/><circle cx="1376.2" cy="298.6" r="2.3"/><circle cx="1376.2" cy="304.1" r="2.3"/><circle cx="1376.2" cy="309.6" r="2.3"/><circle cx="1376.2" cy="315" r="2.3"/><circle cx="1376.3" cy="323.6" r="2.3"/><circle cx="1376.3" cy="326.9" r="2.3"/><circle cx="1376.3" cy="334.9" r="2.3"/><circle cx="1376.3" cy="342.4" r="2.3"/><circle cx="1376.3" cy="345.5" r="2.3"/><circle cx="1376.3" cy="351.8" r="2.3"/><circle cx="1376.3" cy="359.3" r="2.3"/><circle cx="1376.3" cy="365" r="2.3"/><circle cx="1376.3" cy="371.5" r="2.3"/><circle cx="1376.3" cy="378.2" r="2.3"/><circle cx="1376.3" cy="381.9" r="2.3"/><circle cx="1376.3" cy="388.5" r="2.3"/><circle cx="1376.3" cy="394.5" r="2.3"/><circle cx="1376.3" cy="399.6" r="2.3"/><circle cx="1376.3" cy="408.7" r="2.3"/><circle cx="1376.3" cy="414.4" r="2.3"/><circle cx="1376.3" cy="420.2" r="2.3"/><circle cx="1376.3" cy="423.7" r="2.3"/><circle cx="1376.3" cy="432.7" r="2.3"/><circle cx="1376.3" cy="438.4" r="2.3"/><circle cx="1376.3" cy="443.5" r="2.3"/><circle cx="1376.3" cy="450.5" r="2.3"/><circle cx="1376.3" cy="455.5" r="2.3"/><circle cx="1376.3" cy="460.7" r="2.3"/><circle cx="1376.3" cy="466.3" r="2.3"/><circle cx="1376.3" cy="472.9" r="2.3"/><circle cx="1376.3" cy="478.2" r="2.3"/><circle cx="1376.3" cy="485.3" r="2.3"/><circle cx="1376.3" cy="492.9" r="2.3"/><circle cx="1376.3" cy="498.7" r="2.3"/><circle cx="1376.3" cy="505.3" r="2.3"/><circle cx="1376.3" cy="510.9" r="2.3"/><circle cx="1376.4" cy="515.3" r="2.3"/><circle cx="1376.4" cy="522.4" r="2.3"/><circle cx="1376.4" cy="528" r="2.3"/><circle cx="1376.4" cy="535.4" r="2.3"/><circle cx="1376.4" cy="540.4" r="2.3"/><circle cx="1376.4" cy="545.6" r="2.3"/><circle cx="1376.4" cy="553" r="2.3"/><circle cx="1376.4" cy="560.2" r="2.3"/><circle cx="1376.4" cy="563.5" r="2.3"/><circle cx="1376.4" cy="572" r="2.3"/><circle cx="1376.4" cy="574.9" r="2.3"/><circle cx="1376.4" cy="581.8" r="2.3"/><circle cx="1376.4" cy="587.8" r="2.3"/><circle cx="1376.4" cy="595.7" r="2.3"/><circle cx="1376.4" cy="602.4" r="2.3"/><circle cx="1376.4" cy="607.8" r="2.3"/><circle cx="1376.4" cy="612.3" r="2.3"/><circle cx="1376.4" cy="620.4" r="2.3"/><circle cx="1376.4" cy="624.4" r="2.3"/><circle cx="1376.4" cy="630.1" r="2.3"/><circle cx="1376.4" cy="638.6" r="2.3"/><circle cx="1376.4" cy="643.6" r="2.3"/><circle cx="1376.4" cy="649.9" r="2.3"/><circle cx="1376.4" cy="655.9" r="2.3"/><circle cx="1376.4" cy="663.1" r="2.3"/><circle cx="1376.4" cy="667.3" r="2.3"/><circle cx="1376.4" cy="674.6" r="2.3"/><circle cx="1376.4" cy="680.2" r="2.3"/><circle cx="1376.4" cy="686.8" r="2.3"/><circle cx="1376.4" cy="691.3" r="2.3"/><circle cx="1376.4" cy="698.4" r="2.3"/><circle cx="1376.4" cy="703.9" r="2.3"/><circle cx="1376.4" cy="709" r="2.3"/><circle cx="1376.5" cy="714.7" r="2.3"/><circle cx="1376.5" cy="722.2" r="2.3"/><circle cx="1376.5" cy="726.3" r="2.3"/><circle cx="1376.5" cy="735.4" r="2.3"/><circle cx="1376.5" cy="738.6" r="2.3"/><circle cx="1376.5" cy="744.3" r="2.3"/><circle cx="1376.5" cy="750.6" r="2.3"/><circle cx="1376.5" cy="759.6" r="2.3"/><circle cx="1376.5" cy="763.6" r="2.3"/><circle cx="1376.5" cy="768.9" r="2.3"/><circle cx="1376.5" cy="774.5" r="2.3"/><circle cx="1376.5" cy="780.6" r="2.3"/><circle cx="1376.5" cy="789" r="2.3"/><circle cx="1376.5" cy="794.9" r="2.3"/><circle cx="1376.5" cy="801.1" r="2.3"/><circle cx="1376.5" cy="807.3" r="2.3"/><circle cx="1380" cy="837" r="2.3"/><circle cx="1378.7" cy="829.2" r="2.3"/><circle cx="1380.3" cy="819" r="2.3"/><circle cx="1379" cy="815.2" r="2.3"/><circle cx="1379.1" cy="807.5" r="2.3"/><circle cx="1379.2" cy="801" r="2.3"/><circle cx="1380.8" cy="790.4" r="2.3"/><circle cx="1379.4" cy="784.6" r="2.3"/><circle cx="1379.5" cy="779.1" r="2.3"/><circle cx="1381.1" cy="771" r="2.3"/><circle cx="1379.8" cy="763.2" r="2.3"/><circle cx="1381.3" cy="756.3" r="2.3"/><circle cx="1381.4" cy="750.4" r="2.3"/><circle cx="1381.6" cy="739.4" r="2.3"/><circle cx="1380.3" cy="732.4" r="2.3"/><circle cx="1380.4" cy="725.5" r="2.3"/><circle cx="1380.5" cy="719.8" r="2.3"/><circle cx="1380.6" cy="712.9" r="2.3"/><circle cx="1380.7" cy="704.9" r="2.3"/><circle cx="1380.9" cy="696.9" r="2.3"/><circle cx="1382.4" cy="690.3" r="2.3"/><circle cx="1381.1" cy="684.9" r="2.3"/><circle cx="1382.7" cy="676.1" r="2.3"/><circle cx="1381.4" cy="667.9" r="2.3"/><circle cx="1382.9" cy="664" r="2.3"/><circle cx="1381.6" cy="656.4" r="2.3"/><circle cx="1383.3" cy="645.4" r="2.3"/><circle cx="1383.4" cy="638.3" r="2.3"/><circle cx="1382.1" cy="632.7" r="2.3"/><circle cx="1382.2" cy="626.8" r="2.3"/><circle cx="1382.4" cy="616.7" r="2.3"/><circle cx="1382.5" cy="611.4" r="2.3"/><circle cx="1382.7" cy="602.3" r="2.3"/><circle cx="1382.8" cy="597.1" r="2.3"/><circle cx="1384.4" cy="589.3" r="2.3"/><circle cx="1384.4" cy="584.4" r="2.3"/><circle cx="1383.3" cy="573.7" r="2.3"/><circle cx="1383.4" cy="568.6" r="2.3"/><circle cx="1384.9" cy="561.6" r="2.3"/><circle cx="1383.6" cy="554.9" r="2.3"/><circle cx="1383.8" cy="547.2" r="2.3"/><circle cx="1384" cy="537.5" r="2.3"/><circle cx="1384.1" cy="532.1" r="2.3"/><circle cx="1385.6" cy="525.7" r="2.3"/><circle cx="1385.8" cy="517.8" r="2.3"/><circle cx="1386.1" cy="510.2" r="2.3"/><circle cx="1386.2" cy="505.2" r="2.3"/><circle cx="1386.6" cy="496" r="2.3"/><circle cx="1385.4" cy="489.4" r="2.3"/><circle cx="1385.6" cy="483.4" r="2.3"/><circle cx="1387.3" cy="475.6" r="2.3"/><circle cx="1386.2" cy="469.5" r="2.3"/><circle cx="1386.5" cy="460.6" r="2.3"/><circle cx="1388.1" cy="453.6" r="2.3"/><circle cx="1388.3" cy="449" r="2.3"/><circle cx="1388.7" cy="438.6" r="2.3"/><circle cx="1387.6" cy="431.4" r="2.3"/><circle cx="1387.7" cy="427.8" r="2.3"/><circle cx="1388" cy="420.7" r="2.3"/><circle cx="1389.7" cy="410.3" r="2.3"/><circle cx="1390" cy="404.3" r="2.3"/><circle cx="1388.8" cy="399.2" r="2.3"/><circle cx="1389.1" cy="390.6" r="2.3"/><circle cx="1390.7" cy="385.1" r="2.3"/><circle cx="1389.6" cy="377.3" r="2.3"/><circle cx="1391.2" cy="370.5" r="2.3"/><circle cx="1391.5" cy="362.3" r="2.3"/><circle cx="1390.3" cy="356.2" r="2.3"/><circle cx="1392" cy="350" r="2.3"/><circle cx="1390.8" cy="344.1" r="2.3"/><circle cx="1392.6" cy="333.2" r="2.3"/><circle cx="1392.8" cy="327" r="2.3"/><circle cx="1391.8" cy="319.2" r="2.3"/><circle cx="1392" cy="312.8" r="2.3"/><circle cx="1393.7" cy="306.6" r="2.3"/><circle cx="1392.6" cy="300.3" r="2.3"/><circle cx="1393" cy="290.4" r="2.3"/><circle cx="1393.3" cy="283.7" r="2.3"/><circle cx="1394.9" cy="278.8" r="2.3"/><circle cx="1393.9" cy="270.7" r="2.3"/><circle cx="1395.6" cy="262.9" r="2.3"/><circle cx="1394.5" cy="256.2" r="2.3"/><circle cx="1396.2" cy="247.5" r="2.3"/><circle cx="1396.5" cy="240.8" r="2.3"/><circle cx="1395.5" cy="233.4" r="2.3"/><circle cx="1395.6" cy="229.7" r="2.3"/><circle cx="1395.9" cy="222" r="2.3"/><circle cx="1396.3" cy="213.3" r="2.3"/><circle cx="1398.1" cy="204.7" r="2.3"/><circle cx="1398.3" cy="198.9" r="2.3"/><circle cx="1398.6" cy="191.9" r="2.3"/><circle cx="1399" cy="184.7" r="2.3"/><circle cx="1399.3" cy="176.6" r="2.3"/><circle cx="1398.1" cy="171.7" r="2.3"/><circle cx="1398.4" cy="163.8" r="2.3"/><circle cx="1400.2" cy="155.2" r="2.3"/><circle cx="1400.5" cy="148.4" r="2.3"/><circle cx="1409" cy="145.2" r="2.3"/><circle cx="1407.6" cy="151.3" r="2.3"/><circle cx="1409" cy="159.9" r="2.3"/><circle cx="1409" cy="167.8" r="2.3"/><circle cx="1407.6" cy="174.7" r="2.3"/><circle cx="1409" cy="180.2" r="2.3"/><circle cx="1407.6" cy="190.3" r="2.3"/><circle cx="1409" cy="197.6" r="2.3"/><circle cx="1407.6" cy="202.4" r="2.3"/><circle cx="1407.6" cy="208" r="2.3"/><circle cx="1407.6" cy="217.9" r="2.3"/><circle cx="1407.6" cy="223.6" r="2.3"/><circle cx="1407.6" cy="232.1" r="2.3"/><circle cx="1409" cy="237.2" r="2.3"/><circle cx="1409" cy="244.7" r="2.3"/><circle cx="1407.6" cy="253" r="2.3"/><circle cx="1409" cy="260.1" r="2.3"/><circle cx="1407.6" cy="265.4" r="2.3"/><circle cx="1409" cy="272.1" r="2.3"/><circle cx="1409" cy="280.9" r="2.3"/><circle cx="1409" cy="287.9" r="2.3"/><circle cx="1409" cy="292.1" r="2.3"/><circle cx="1409" cy="300.7" r="2.3"/><circle cx="1409" cy="307.6" r="2.3"/><circle cx="1407.6" cy="315.1" r="2.3"/><circle cx="1409" cy="323.1" r="2.3"/><circle cx="1409" cy="328" r="2.3"/><circle cx="1407.6" cy="338" r="2.3"/><circle cx="1409" cy="341.8" r="2.3"/><circle cx="1407.6" cy="351.8" r="2.3"/><circle cx="1409" cy="357.8" r="2.3"/><circle cx="1407.6" cy="365.3" r="2.3"/><circle cx="1407.6" cy="372.5" r="2.3"/><circle cx="1409" cy="380.8" r="2.3"/><circle cx="1407.6" cy="384.8" r="2.3"/><circle cx="1407.6" cy="393.3" r="2.3"/><circle cx="1409" cy="398.7" r="2.3"/><circle cx="1407.6" cy="406.4" r="2.3"/><circle cx="1409" cy="412.9" r="2.3"/><circle cx="1407.6" cy="422.4" r="2.3"/><circle cx="1407.6" cy="428.7" r="2.3"/><circle cx="1409" cy="436" r="2.3"/><circle cx="1407.6" cy="441" r="2.3"/><circle cx="1409" cy="449.5" r="2.3"/><circle cx="1407.6" cy="457.1" r="2.3"/><circle cx="1409" cy="463.7" r="2.3"/><circle cx="1407.6" cy="470.2" r="2.3"/><circle cx="1407.6" cy="477.5" r="2.3"/><circle cx="1407.6" cy="484.6" r="2.3"/><circle cx="1407.6" cy="492.5" r="2.3"/><circle cx="1407.6" cy="498.7" r="2.3"/><circle cx="1409" cy="504.3" r="2.3"/><circle cx="1409" cy="512.7" r="2.3"/><circle cx="1409" cy="520.6" r="2.3"/><circle cx="1409" cy="526.4" r="2.3"/><circle cx="1407.6" cy="536.1" r="2.3"/><circle cx="1409" cy="539.7" r="2.3"/><circle cx="1407.6" cy="548.7" r="2.3"/><circle cx="1407.6" cy="553.1" r="2.3"/><circle cx="1409" cy="563" r="2.3"/><circle cx="1407.6" cy="570.6" r="2.3"/><circle cx="1409" cy="576.3" r="2.3"/><circle cx="1407.6" cy="584.4" r="2.3"/><circle cx="1409" cy="588.4" r="2.3"/><circle cx="1409" cy="598" r="2.3"/><circle cx="1409" cy="602.8" r="2.3"/><circle cx="1407.6" cy="610.9" r="2.3"/><circle cx="1409" cy="617.7" r="2.3"/><circle cx="1407.6" cy="625.3" r="2.3"/><circle cx="1409" cy="634.1" r="2.3"/><circle cx="1409" cy="639.2" r="2.3"/><circle cx="1409" cy="646.4" r="2.3"/><circle cx="1409" cy="655.5" r="2.3"/><circle cx="1409" cy="662.9" r="2.3"/><circle cx="1409" cy="669.2" r="2.3"/><circle cx="1409" cy="673.7" r="2.3"/><circle cx="1407.6" cy="680.5" r="2.3"/><circle cx="1407.6" cy="690.3" r="2.3"/><circle cx="1409" cy="695.8" r="2.3"/><circle cx="1407.6" cy="703.4" r="2.3"/><circle cx="1407.6" cy="709.9" r="2.3"/><circle cx="1407.6" cy="715.3" r="2.3"/><circle cx="1409" cy="725.8" r="2.3"/><circle cx="1407.6" cy="731.9" r="2.3"/><circle cx="1409" cy="739.7" r="2.3"/><circle cx="1407.6" cy="746" r="2.3"/><circle cx="1409" cy="751.4" r="2.3"/><circle cx="1407.6" cy="760.2" r="2.3"/><circle cx="1407.6" cy="765" r="2.3"/><circle cx="1409" cy="775.3" r="2.3"/><circle cx="1408.4" cy="784" r="2.3"/><circle cx="1409.7" cy="792.9" r="2.3"/><circle cx="1412.8" cy="799.8" r="2.3"/><circle cx="1411.5" cy="792.1" r="2.3"/><circle cx="1413" cy="786.7" r="2.3"/><circle cx="1411.7" cy="781.1" r="2.3"/><circle cx="1411.9" cy="771.6" r="2.3"/><circle cx="1413.5" cy="762.8" r="2.3"/><circle cx="1413.6" cy="756.5" r="2.3"/><circle cx="1412.3" cy="749.7" r="2.3"/><circle cx="1412.5" cy="741.3" r="2.3"/><circle cx="1414" cy="734.8" r="2.3"/><circle cx="1412.8" cy="727.1" r="2.3"/><circle cx="1412.9" cy="719.3" r="2.3"/><circle cx="1413.1" cy="710.8" r="2.3"/><circle cx="1413.2" cy="705.5" r="2.3"/><circle cx="1413.3" cy="697.1" r="2.3"/><circle cx="1413.4" cy="688.6" r="2.3"/><circle cx="1413.5" cy="684.8" r="2.3"/><circle cx="1413.5" cy="678" r="2.3"/><circle cx="1413.6" cy="670.2" r="2.3"/><circle cx="1413.7" cy="662.4" r="2.3"/><circle cx="1415.2" cy="653.2" r="2.3"/><circle cx="1413.8" cy="646.7" r="2.3"/><circle cx="1413.9" cy="639.7" r="2.3"/><circle cx="1415.4" cy="634.5" r="2.3"/><circle cx="1415.4" cy="626.6" r="2.3"/><circle cx="1414.1" cy="617.5" r="2.3"/><circle cx="1414.2" cy="611.2" r="2.3"/><circle cx="1414.2" cy="606.9" r="2.3"/><circle cx="1415.7" cy="598.3" r="2.3"/><circle cx="1414.4" cy="589.7" r="2.3"/><circle cx="1415.9" cy="581.6" r="2.3"/><circle cx="1415.9" cy="576" r="2.3"/><circle cx="1416" cy="569.9" r="2.3"/><circle cx="1414.7" cy="562.3" r="2.3"/><circle cx="1414.7" cy="556.5" r="2.3"/><circle cx="1414.8" cy="548.4" r="2.3"/><circle cx="1416.3" cy="540.2" r="2.3"/><circle cx="1416.4" cy="533.7" r="2.3"/><circle cx="1416.5" cy="524.5" r="2.3"/><circle cx="1415.1" cy="520.2" r="2.3"/><circle cx="1416.6" cy="511.6" r="2.3"/><circle cx="1415.3" cy="503.4" r="2.3"/><circle cx="1416.7" cy="496.4" r="2.3"/><circle cx="1415.4" cy="490.4" r="2.3"/><circle cx="1416.9" cy="484.1" r="2.3"/><circle cx="1415.5" cy="476" r="2.3"/><circle cx="1417" cy="468" r="2.3"/><circle cx="1417.1" cy="461.3" r="2.3"/><circle cx="1417.1" cy="456" r="2.3"/><circle cx="1415.8" cy="449.3" r="2.3"/><circle cx="1415.9" cy="441.6" r="2.3"/><circle cx="1416" cy="432.2" r="2.3"/><circle cx="1417.4" cy="427.4" r="2.3"/><circle cx="1416.1" cy="419.9" r="2.3"/><circle cx="1417.6" cy="412" r="2.3"/><circle cx="1416.3" cy="403.7" r="2.3"/><circle cx="1416.4" cy="396.6" r="2.3"/><circle cx="1416.5" cy="391.6" r="2.3"/><circle cx="1418.1" cy="382.9" r="2.3"/><circle cx="1418.3" cy="375.6" r="2.3"/><circle cx="1417" cy="369.1" r="2.3"/><circle cx="1418.6" cy="361.1" r="2.3"/><circle cx="1418.8" cy="355" r="2.3"/><circle cx="1417.5" cy="346.9" r="2.3"/><circle cx="1419.1" cy="341.4" r="2.3"/><circle cx="1419.3" cy="332.2" r="2.3"/><circle cx="1418" cy="326.9" r="2.3"/><circle cx="1418.2" cy="321" r="2.3"/><circle cx="1419.7" cy="314.3" r="2.3"/><circle cx="1419.9" cy="306" r="2.3"/><circle cx="1418.7" cy="298.7" r="2.3"/><circle cx="1420.2" cy="292.3" r="2.3"/><circle cx="1419" cy="284.6" r="2.3"/><circle cx="1420.6" cy="277.5" r="2.3"/><circle cx="1419.4" cy="268.6" r="2.3"/><circle cx="1419.5" cy="263.5" r="2.3"/><circle cx="1419.7" cy="256.3" r="2.3"/><circle cx="1419.8" cy="250.3" r="2.3"/><circle cx="1421.5" cy="239.3" r="2.3"/><circle cx="1420.2" cy="233.9" r="2.3"/><circle cx="1421.7" cy="228.2" r="2.3"/><circle cx="1421.9" cy="220.4" r="2.3"/><circle cx="1420.7" cy="211.8" r="2.3"/><circle cx="1420.8" cy="206.9" r="2.3"/><circle cx="1421" cy="199.4" r="2.3"/><circle cx="1421.2" cy="192.2" r="2.3"/><circle cx="1422.7" cy="186.4" r="2.3"/><circle cx="1423" cy="175.8" r="2.3"/><circle cx="1421.7" cy="170.4" r="2.3"/><circle cx="1423.3" cy="161.7" r="2.3"/><circle cx="1422.1" cy="154.3" r="2.3"/><circle cx="1422.2" cy="150" r="2.3"/><circle cx="1439.9" cy="146.7" r="2.3"/><circle cx="1438.5" cy="151.8" r="2.3"/><circle cx="1438.5" cy="159.6" r="2.3"/><circle cx="1438.5" cy="169.2" r="2.3"/><circle cx="1439.9" cy="172.7" r="2.3"/><circle cx="1438.6" cy="183" r="2.3"/><circle cx="1438.6" cy="189.8" r="2.3"/><circle cx="1438.6" cy="196.5" r="2.3"/><circle cx="1440" cy="201.1" r="2.3"/><circle cx="1438.6" cy="207.2" r="2.3"/><circle cx="1438.6" cy="215.3" r="2.3"/><circle cx="1440" cy="224.9" r="2.3"/><circle cx="1440" cy="230.5" r="2.3"/><circle cx="1438.6" cy="238.2" r="2.3"/><circle cx="1440" cy="244" r="2.3"/><circle cx="1438.6" cy="250.1" r="2.3"/><circle cx="1440" cy="257.6" r="2.3"/><circle cx="1438.7" cy="263.7" r="2.3"/><circle cx="1438.7" cy="273.4" r="2.3"/><circle cx="1438.7" cy="279" r="2.3"/><circle cx="1438.7" cy="287.4" r="2.3"/><circle cx="1438.7" cy="294.9" r="2.3"/><circle cx="1440.1" cy="298.3" r="2.3"/><circle cx="1438.7" cy="308.7" r="2.3"/><circle cx="1438.7" cy="315.3" r="2.3"/><circle cx="1440.1" cy="322.9" r="2.3"/><circle cx="1438.7" cy="329.5" r="2.3"/><circle cx="1440.2" cy="334.9" r="2.3"/><circle cx="1438.8" cy="341.4" r="2.3"/><circle cx="1440.2" cy="349" r="2.3"/><circle cx="1438.8" cy="354.6" r="2.3"/><circle cx="1438.8" cy="364.1" r="2.3"/><circle cx="1438.8" cy="371" r="2.3"/><circle cx="1438.8" cy="376.8" r="2.3"/><circle cx="1440.2" cy="383.1" r="2.3"/><circle cx="1438.8" cy="390" r="2.3"/><circle cx="1440.2" cy="397.1" r="2.3"/><circle cx="1438.8" cy="404.4" r="2.3"/><circle cx="1438.9" cy="411.1" r="2.3"/><circle cx="1440.3" cy="418.3" r="2.3"/><circle cx="1438.9" cy="424.5" r="2.3"/><circle cx="1438.9" cy="433.7" r="2.3"/><circle cx="1440.3" cy="440.4" r="2.3"/><circle cx="1438.9" cy="445.5" r="2.3"/><circle cx="1440.3" cy="456.1" r="2.3"/><circle cx="1438.9" cy="463.2" r="2.3"/><circle cx="1438.9" cy="469.9" r="2.3"/><circle cx="1440.3" cy="474.6" r="2.3"/><circle cx="1438.9" cy="483.8" r="2.3"/><circle cx="1440.4" cy="490.5" r="2.3"/><circle cx="1439" cy="494.6" r="2.3"/><circle cx="1440.4" cy="502.9" r="2.3"/><circle cx="1440.4" cy="510.1" r="2.3"/><circle cx="1440.4" cy="515" r="2.3"/><circle cx="1440.4" cy="522.8" r="2.3"/><circle cx="1440.4" cy="529.2" r="2.3"/><circle cx="1439" cy="536.9" r="2.3"/><circle cx="1439" cy="543.6" r="2.3"/><circle cx="1439" cy="552.2" r="2.3"/><circle cx="1439" cy="560" r="2.3"/><circle cx="1439.1" cy="566.5" r="2.3"/><circle cx="1440.5" cy="574.7" r="2.3"/><circle cx="1439.1" cy="581.2" r="2.3"/><circle cx="1439.1" cy="585.9" r="2.3"/><circle cx="1439.1" cy="594.4" r="2.3"/><circle cx="1440.5" cy="599" r="2.3"/><circle cx="1439.1" cy="609.5" r="2.3"/><circle cx="1440.5" cy="615.2" r="2.3"/><circle cx="1440.5" cy="621.4" r="2.3"/><circle cx="1440.5" cy="627.4" r="2.3"/><circle cx="1440.5" cy="637.8" r="2.3"/><circle cx="1440.6" cy="641.6" r="2.3"/><circle cx="1440.6" cy="649" r="2.3"/><circle cx="1440.6" cy="655.2" r="2.3"/><circle cx="1439.2" cy="664.4" r="2.3"/><circle cx="1440.6" cy="670.5" r="2.3"/><circle cx="1439.2" cy="680.1" r="2.3"/><circle cx="1439.2" cy="683.5" r="2.3"/><circle cx="1440.6" cy="693.4" r="2.3"/><circle cx="1440.6" cy="700.3" r="2.3"/><circle cx="1439.2" cy="706.4" r="2.3"/><circle cx="1439.2" cy="712.2" r="2.3"/><circle cx="1440.7" cy="722" r="2.3"/><circle cx="1439.3" cy="726.9" r="2.3"/><circle cx="1439.3" cy="734.2" r="2.3"/><circle cx="1439.3" cy="739.1" r="2.3"/><circle cx="1439.3" cy="746.9" r="2.3"/><circle cx="1440.9" cy="753.7" r="2.3"/><circle cx="1441.3" cy="758.9" r="2.3"/><circle cx="1441.6" cy="752.4" r="2.3"/><circle cx="1443.2" cy="743.8" r="2.3"/><circle cx="1443.5" cy="735.1" r="2.3"/><circle cx="1442.3" cy="729.5" r="2.3"/><circle cx="1442.7" cy="719.3" r="2.3"/><circle cx="1444.2" cy="713.8" r="2.3"/><circle cx="1444.5" cy="705.3" r="2.3"/><circle cx="1443.3" cy="699.5" r="2.3"/><circle cx="1443.4" cy="691.1" r="2.3"/><circle cx="1443.5" cy="683.4" r="2.3"/><circle cx="1443.6" cy="674.9" r="2.3"/><circle cx="1445" cy="668.6" r="2.3"/><circle cx="1443.7" cy="661.1" r="2.3"/><circle cx="1443.8" cy="653.1" r="2.3"/><circle cx="1445.2" cy="646" r="2.3"/><circle cx="1443.9" cy="639.9" r="2.3"/><circle cx="1444" cy="634" r="2.3"/><circle cx="1445.4" cy="625.2" r="2.3"/><circle cx="1445.5" cy="619.7" r="2.3"/><circle cx="1445.6" cy="611.2" r="2.3"/><circle cx="1444.3" cy="603.6" r="2.3"/><circle cx="1444.3" cy="598.6" r="2.3"/><circle cx="1445.8" cy="588.8" r="2.3"/><circle cx="1445.9" cy="584.6" r="2.3"/><circle cx="1444.5" cy="575.7" r="2.3"/><circle cx="1444.6" cy="569.9" r="2.3"/><circle cx="1446.1" cy="564" r="2.3"/><circle cx="1444.7" cy="556.3" r="2.3"/><circle cx="1446.2" cy="549" r="2.3"/><circle cx="1446.3" cy="538.7" r="2.3"/><circle cx="1445" cy="533" r="2.3"/><circle cx="1446.4" cy="528.4" r="2.3"/><circle cx="1446.5" cy="517.5" r="2.3"/><circle cx="1445.2" cy="511.6" r="2.3"/><circle cx="1446.7" cy="504.5" r="2.3"/><circle cx="1445.3" cy="499.5" r="2.3"/><circle cx="1445.4" cy="491" r="2.3"/><circle cx="1446.9" cy="484.5" r="2.3"/><circle cx="1445.5" cy="477.1" r="2.3"/><circle cx="1447" cy="470.9" r="2.3"/><circle cx="1445.7" cy="463.9" r="2.3"/><circle cx="1445.7" cy="455.3" r="2.3"/><circle cx="1447.2" cy="446.2" r="2.3"/><circle cx="1447.3" cy="440.4" r="2.3"/><circle cx="1446" cy="434.7" r="2.3"/><circle cx="1447.4" cy="425.4" r="2.3"/><circle cx="1446.1" cy="417.8" r="2.3"/><circle cx="1446.2" cy="411.5" r="2.3"/><circle cx="1447.7" cy="404.8" r="2.3"/><circle cx="1447.7" cy="398" r="2.3"/><circle cx="1447.8" cy="390.3" r="2.3"/><circle cx="1446.5" cy="382.3" r="2.3"/><circle cx="1446.6" cy="377.6" r="2.3"/><circle cx="1448" cy="370.7" r="2.3"/><circle cx="1448.2" cy="360.3" r="2.3"/><circle cx="1448.2" cy="357.3" r="2.3"/><circle cx="1446.9" cy="349.5" r="2.3"/><circle cx="1448.4" cy="341.7" r="2.3"/><circle cx="1448.5" cy="333.9" r="2.3"/><circle cx="1447.2" cy="325.1" r="2.3"/><circle cx="1447.2" cy="320.5" r="2.3"/><circle cx="1447.3" cy="314" r="2.3"/><circle cx="1448.8" cy="305" r="2.3"/><circle cx="1447.5" cy="298.6" r="2.3"/><circle cx="1449" cy="291.1" r="2.3"/><circle cx="1447.7" cy="284.7" r="2.3"/><circle cx="1447.7" cy="276.9" r="2.3"/><circle cx="1449.2" cy="270.2" r="2.3"/><circle cx="1447.9" cy="264.3" r="2.3"/><circle cx="1449.4" cy="255.1" r="2.3"/><circle cx="1448.1" cy="247.2" r="2.3"/><circle cx="1449.6" cy="240.4" r="2.3"/><circle cx="1448.2" cy="235.3" r="2.3"/><circle cx="1448.3" cy="227.6" r="2.3"/><circle cx="1448.4" cy="222.2" r="2.3"/><circle cx="1448.5" cy="213" r="2.3"/><circle cx="1450" cy="206.2" r="2.3"/><circle cx="1448.7" cy="197.2" r="2.3"/><circle cx="1450.1" cy="192.2" r="2.3"/><circle cx="1450.2" cy="183.7" r="2.3"/><circle cx="1450.3" cy="176.5" r="2.3"/><circle cx="1450.4" cy="170.9" r="2.3"/><circle cx="1449.1" cy="162.6" r="2.3"/><circle cx="1450.6" cy="154.9" r="2.3"/><circle cx="1450.6" cy="149.5" r="2.3"/><circle cx="1469.9" cy="144.8" r="2.3"/><circle cx="1469.9" cy="154.5" r="2.3"/><circle cx="1468.5" cy="160.6" r="2.3"/><circle cx="1469.9" cy="165.6" r="2.3"/><circle cx="1468.5" cy="173.7" r="2.3"/><circle cx="1468.6" cy="183.5" r="2.3"/><circle cx="1468.6" cy="190.6" r="2.3"/><circle cx="1470" cy="193.6" r="2.3"/><circle cx="1470" cy="203" r="2.3"/><circle cx="1470" cy="209" r="2.3"/><circle cx="1470" cy="217.1" r="2.3"/><circle cx="1470" cy="224" r="2.3"/><circle cx="1470" cy="230.6" r="2.3"/><circle cx="1470" cy="236.2" r="2.3"/><circle cx="1468.6" cy="245" r="2.3"/><circle cx="1468.7" cy="253" r="2.3"/><circle cx="1470.1" cy="257.7" r="2.3"/><circle cx="1468.7" cy="266.4" r="2.3"/><circle cx="1470.1" cy="275.1" r="2.3"/><circle cx="1470.1" cy="280.5" r="2.3"/><circle cx="1470.1" cy="288.8" r="2.3"/><circle cx="1468.7" cy="295.6" r="2.3"/><circle cx="1470.1" cy="300.4" r="2.3"/><circle cx="1468.7" cy="308.3" r="2.3"/><circle cx="1468.8" cy="317.4" r="2.3"/><circle cx="1470.2" cy="321.4" r="2.3"/><circle cx="1470.2" cy="330.9" r="2.3"/><circle cx="1470.2" cy="337.8" r="2.3"/><circle cx="1468.8" cy="345.6" r="2.3"/><circle cx="1468.8" cy="351.4" r="2.3"/><circle cx="1468.8" cy="358.1" r="2.3"/><circle cx="1468.8" cy="366.1" r="2.3"/><circle cx="1468.8" cy="372" r="2.3"/><circle cx="1468.8" cy="380.5" r="2.3"/><circle cx="1470.3" cy="388" r="2.3"/><circle cx="1468.9" cy="394.7" r="2.3"/><circle cx="1470.3" cy="402.7" r="2.3"/><circle cx="1468.9" cy="409.4" r="2.3"/><circle cx="1468.9" cy="415.8" r="2.3"/><circle cx="1470.3" cy="420.7" r="2.3"/><circle cx="1468.9" cy="430.8" r="2.3"/><circle cx="1470.3" cy="436.6" r="2.3"/><circle cx="1468.9" cy="443.8" r="2.3"/><circle cx="1468.9" cy="449" r="2.3"/><circle cx="1469" cy="455.5" r="2.3"/><circle cx="1470.4" cy="463.2" r="2.3"/><circle cx="1470.4" cy="473" r="2.3"/><circle cx="1469" cy="480" r="2.3"/><circle cx="1470.4" cy="486.5" r="2.3"/><circle cx="1469" cy="491.4" r="2.3"/><circle cx="1469" cy="499.3" r="2.3"/><circle cx="1469" cy="505.1" r="2.3"/><circle cx="1469" cy="515.6" r="2.3"/><circle cx="1470.4" cy="520.6" r="2.3"/><circle cx="1469.1" cy="528.8" r="2.3"/><circle cx="1470.5" cy="533.5" r="2.3"/><circle cx="1469.1" cy="542.8" r="2.3"/><circle cx="1469.1" cy="549.3" r="2.3"/><circle cx="1469.1" cy="555.5" r="2.3"/><circle cx="1469.1" cy="562.2" r="2.3"/><circle cx="1470.5" cy="570" r="2.3"/><circle cx="1470.5" cy="577" r="2.3"/><circle cx="1470.5" cy="586.8" r="2.3"/><circle cx="1469.2" cy="594" r="2.3"/><circle cx="1470.6" cy="598" r="2.3"/><circle cx="1469.2" cy="606.9" r="2.3"/><circle cx="1470.6" cy="612.8" r="2.3"/><circle cx="1470.6" cy="621.9" r="2.3"/><circle cx="1469.2" cy="625.3" r="2.3"/><circle cx="1469.2" cy="632.7" r="2.3"/><circle cx="1469.2" cy="640.9" r="2.3"/><circle cx="1470.6" cy="646.5" r="2.3"/><circle cx="1470.6" cy="655.2" r="2.3"/><circle cx="1470.6" cy="661.1" r="2.3"/><circle cx="1469.3" cy="669.1" r="2.3"/><circle cx="1470.7" cy="678.9" r="2.3"/><circle cx="1470.7" cy="685.4" r="2.3"/><circle cx="1470.7" cy="691.3" r="2.3"/><circle cx="1472.7" cy="699.2" r="2.3"/><circle cx="1472.8" cy="691.4" r="2.3"/><circle cx="1471.4" cy="685.6" r="2.3"/><circle cx="1471.5" cy="677.1" r="2.3"/><circle cx="1471.6" cy="670.4" r="2.3"/><circle cx="1473.1" cy="663.9" r="2.3"/><circle cx="1471.8" cy="654.8" r="2.3"/><circle cx="1473.2" cy="647.6" r="2.3"/><circle cx="1471.9" cy="639.3" r="2.3"/><circle cx="1473.3" cy="635" r="2.3"/><circle cx="1473.4" cy="627.6" r="2.3"/><circle cx="1472.1" cy="619.8" r="2.3"/><circle cx="1473.6" cy="613" r="2.3"/><circle cx="1472.3" cy="605" r="2.3"/><circle cx="1472.3" cy="596.3" r="2.3"/><circle cx="1473.8" cy="588.8" r="2.3"/><circle cx="1473.9" cy="583.2" r="2.3"/><circle cx="1473.9" cy="576.1" r="2.3"/><circle cx="1474" cy="569.1" r="2.3"/><circle cx="1472.7" cy="561.7" r="2.3"/><circle cx="1472.7" cy="556.6" r="2.3"/><circle cx="1472.8" cy="547.1" r="2.3"/><circle cx="1474.3" cy="540.5" r="2.3"/><circle cx="1474.4" cy="532.6" r="2.3"/><circle cx="1473" cy="528.4" r="2.3"/><circle cx="1474.5" cy="520.1" r="2.3"/><circle cx="1473.2" cy="511.2" r="2.3"/><circle cx="1473.3" cy="503.8" r="2.3"/><circle cx="1473.3" cy="498.6" r="2.3"/><circle cx="1474.8" cy="492.6" r="2.3"/><circle cx="1474.8" cy="482.3" r="2.3"/><circle cx="1474.9" cy="477.8" r="2.3"/><circle cx="1474.9" cy="471.1" r="2.3"/><circle cx="1475" cy="463.9" r="2.3"/><circle cx="1475" cy="456.1" r="2.3"/><circle cx="1475.1" cy="446.6" r="2.3"/><circle cx="1473.8" cy="439.7" r="2.3"/><circle cx="1473.8" cy="431.9" r="2.3"/><circle cx="1475.2" cy="428.7" r="2.3"/><circle cx="1473.9" cy="417.8" r="2.3"/><circle cx="1475.4" cy="411.7" r="2.3"/><circle cx="1475.4" cy="406.4" r="2.3"/><circle cx="1474.1" cy="398.8" r="2.3"/><circle cx="1474.1" cy="392.4" r="2.3"/><circle cx="1474.2" cy="384.9" r="2.3"/><circle cx="1474.2" cy="375.9" r="2.3"/><circle cx="1474.3" cy="370.1" r="2.3"/><circle cx="1475.7" cy="362.9" r="2.3"/><circle cx="1474.4" cy="356.9" r="2.3"/><circle cx="1474.5" cy="348.1" r="2.3"/><circle cx="1474.5" cy="340.9" r="2.3"/><circle cx="1476" cy="333.8" r="2.3"/><circle cx="1476" cy="325.2" r="2.3"/><circle cx="1474.7" cy="318" r="2.3"/><circle cx="1476.1" cy="311.3" r="2.3"/><circle cx="1474.8" cy="303.9" r="2.3"/><circle cx="1474.8" cy="296.5" r="2.3"/><circle cx="1476.3" cy="293.4" r="2.3"/><circle cx="1476.3" cy="285.5" r="2.3"/><circle cx="1475" cy="276.1" r="2.3"/><circle cx="1476.4" cy="270.4" r="2.3"/><circle cx="1475.1" cy="260.8" r="2.3"/><circle cx="1475.1" cy="256.7" r="2.3"/><circle cx="1476.6" cy="249.3" r="2.3"/><circle cx="1476.7" cy="241.8" r="2.3"/><circle cx="1476.7" cy="233.6" r="2.3"/><circle cx="1475.4" cy="227.3" r="2.3"/><circle cx="1475.4" cy="220.5" r="2.3"/><circle cx="1475.5" cy="213.1" r="2.3"/><circle cx="1476.9" cy="207.9" r="2.3"/><circle cx="1475.6" cy="200.2" r="2.3"/><circle cx="1475.7" cy="189.7" r="2.3"/><circle cx="1475.7" cy="184.4" r="2.3"/><circle cx="1475.8" cy="175.5" r="2.3"/><circle cx="1477.2" cy="171" r="2.3"/><circle cx="1477.2" cy="165" r="2.3"/><circle cx="1477.3" cy="157.7" r="2.3"/><circle cx="1476" cy="148.3" r="2.3"/><circle cx="1496.6" cy="147" r="2.3"/><circle cx="1498" cy="153.2" r="2.3"/><circle cx="1498" cy="158.6" r="2.3"/><circle cx="1496.6" cy="167.9" r="2.3"/><circle cx="1496.6" cy="175.7" r="2.3"/><circle cx="1496.6" cy="181.5" r="2.3"/><circle cx="1496.6" cy="187.4" r="2.3"/><circle cx="1496.6" cy="195.3" r="2.3"/><circle cx="1496.6" cy="202.8" r="2.3"/><circle cx="1498" cy="209.5" r="2.3"/><circle cx="1498" cy="217.5" r="2.3"/><circle cx="1496.7" cy="224.5" r="2.3"/><circle cx="1496.7" cy="230.9" r="2.3"/><circle cx="1496.7" cy="236.5" r="2.3"/><circle cx="1498.1" cy="242.2" r="2.3"/><circle cx="1496.7" cy="250.3" r="2.3"/><circle cx="1498.1" cy="258.9" r="2.3"/><circle cx="1496.7" cy="267" r="2.3"/><circle cx="1498.1" cy="271.4" r="2.3"/><circle cx="1498.1" cy="279.4" r="2.3"/><circle cx="1496.7" cy="284.7" r="2.3"/><circle cx="1498.1" cy="291.2" r="2.3"/><circle cx="1498.1" cy="302.2" r="2.3"/><circle cx="1498.1" cy="305.4" r="2.3"/><circle cx="1498.1" cy="316.1" r="2.3"/><circle cx="1498.1" cy="319.5" r="2.3"/><circle cx="1498.1" cy="330" r="2.3"/><circle cx="1498.1" cy="333.8" r="2.3"/><circle cx="1496.7" cy="340" r="2.3"/><circle cx="1498.1" cy="349.7" r="2.3"/><circle cx="1496.7" cy="356.7" r="2.3"/><circle cx="1496.7" cy="361.6" r="2.3"/><circle cx="1498.1" cy="368.1" r="2.3"/><circle cx="1498.1" cy="378.5" r="2.3"/><circle cx="1496.8" cy="383.5" r="2.3"/><circle cx="1498.2" cy="389.4" r="2.3"/><circle cx="1498.2" cy="399.1" r="2.3"/><circle cx="1498.2" cy="404.6" r="2.3"/><circle cx="1498.2" cy="411.3" r="2.3"/><circle cx="1498.2" cy="417.6" r="2.3"/><circle cx="1498.2" cy="427.5" r="2.3"/><circle cx="1496.8" cy="432" r="2.3"/><circle cx="1498.2" cy="438.5" r="2.3"/><circle cx="1496.8" cy="448.8" r="2.3"/><circle cx="1498.2" cy="454.1" r="2.3"/><circle cx="1498.2" cy="462.1" r="2.3"/><circle cx="1496.8" cy="468.5" r="2.3"/><circle cx="1496.8" cy="473.6" r="2.3"/><circle cx="1498.2" cy="480.7" r="2.3"/><circle cx="1498.2" cy="489.7" r="2.3"/><circle cx="1496.8" cy="494.4" r="2.3"/><circle cx="1498.2" cy="504.6" r="2.3"/><circle cx="1498.2" cy="508.8" r="2.3"/><circle cx="1498.2" cy="515" r="2.3"/><circle cx="1496.8" cy="522.6" r="2.3"/><circle cx="1498.2" cy="531.8" r="2.3"/><circle cx="1496.8" cy="539.7" r="2.3"/><circle cx="1496.9" cy="544.8" r="2.3"/><circle cx="1496.9" cy="553.8" r="2.3"/><circle cx="1496.9" cy="558.6" r="2.3"/><circle cx="1498.3" cy="565.9" r="2.3"/><circle cx="1498.3" cy="573.4" r="2.3"/><circle cx="1498.3" cy="578.4" r="2.3"/><circle cx="1498.3" cy="587.2" r="2.3"/><circle cx="1496.9" cy="596.1" r="2.3"/><circle cx="1496.9" cy="603.1" r="2.3"/><circle cx="1496.9" cy="609.4" r="2.3"/><circle cx="1498.3" cy="616" r="2.3"/><circle cx="1500.7" cy="622.4" r="2.3"/><circle cx="1500.8" cy="615.6" r="2.3"/><circle cx="1500.9" cy="606.9" r="2.3"/><circle cx="1499.6" cy="601.1" r="2.3"/><circle cx="1501.1" cy="595.6" r="2.3"/><circle cx="1499.8" cy="587.6" r="2.3"/><circle cx="1499.9" cy="579.2" r="2.3"/><circle cx="1501.4" cy="572.9" r="2.3"/><circle cx="1500.1" cy="565.8" r="2.3"/><circle cx="1501.6" cy="558.9" r="2.3"/><circle cx="1501.7" cy="552.3" r="2.3"/><circle cx="1500.4" cy="546.1" r="2.3"/><circle cx="1501.9" cy="538.2" r="2.3"/><circle cx="1500.5" cy="532.5" r="2.3"/><circle cx="1500.6" cy="525.8" r="2.3"/><circle cx="1500.7" cy="517.2" r="2.3"/><circle cx="1502.2" cy="511.6" r="2.3"/><circle cx="1500.9" cy="502.7" r="2.3"/><circle cx="1502.4" cy="496.2" r="2.3"/><circle cx="1501.1" cy="488.4" r="2.3"/><circle cx="1501.2" cy="482" r="2.3"/><circle cx="1501.3" cy="475.1" r="2.3"/><circle cx="1501.4" cy="467.2" r="2.3"/><circle cx="1501.5" cy="459.7" r="2.3"/><circle cx="1501.6" cy="452.9" r="2.3"/><circle cx="1501.7" cy="445.6" r="2.3"/><circle cx="1501.8" cy="439.5" r="2.3"/><circle cx="1503.3" cy="433.2" r="2.3"/><circle cx="1502" cy="425.8" r="2.3"/><circle cx="1502.1" cy="418.7" r="2.3"/><circle cx="1502.1" cy="413.5" r="2.3"/><circle cx="1502.2" cy="405.3" r="2.3"/><circle cx="1502.3" cy="398.4" r="2.3"/><circle cx="1502.3" cy="389.9" r="2.3"/><circle cx="1502.4" cy="383.8" r="2.3"/><circle cx="1503.8" cy="375.6" r="2.3"/><circle cx="1502.4" cy="367.7" r="2.3"/><circle cx="1502.4" cy="361.8" r="2.3"/><circle cx="1503.9" cy="354.9" r="2.3"/><circle cx="1503.9" cy="349.5" r="2.3"/><circle cx="1502.5" cy="339.7" r="2.3"/><circle cx="1502.6" cy="332.5" r="2.3"/><circle cx="1504" cy="327.9" r="2.3"/><circle cx="1502.6" cy="318.7" r="2.3"/><circle cx="1504" cy="311.2" r="2.3"/><circle cx="1504.1" cy="307.1" r="2.3"/><circle cx="1502.7" cy="297" r="2.3"/><circle cx="1502.7" cy="293.2" r="2.3"/><circle cx="1502.7" cy="285.1" r="2.3"/><circle cx="1502.8" cy="276.2" r="2.3"/><circle cx="1504.2" cy="268.4" r="2.3"/><circle cx="1502.8" cy="264.4" r="2.3"/><circle cx="1502.9" cy="255.7" r="2.3"/><circle cx="1502.9" cy="247.3" r="2.3"/><circle cx="1504.3" cy="242.9" r="2.3"/><circle cx="1504.4" cy="232.7" r="2.3"/><circle cx="1504.4" cy="225.8" r="2.3"/><circle cx="1504.4" cy="219.9" r="2.3"/><circle cx="1503" cy="211.1" r="2.3"/><circle cx="1503.1" cy="207.9" r="2.3"/><circle cx="1504.5" cy="198.8" r="2.3"/><circle cx="1503.1" cy="190.1" r="2.3"/><circle cx="1504.5" cy="186.3" r="2.3"/><circle cx="1503.2" cy="176" r="2.3"/><circle cx="1504.6" cy="169.5" r="2.3"/><circle cx="1503.2" cy="163.7" r="2.3"/><circle cx="1503.3" cy="156.7" r="2.3"/><circle cx="1503.3" cy="149.8" r="2.3"/><circle cx="1523.6" cy="146.5" r="2.3"/><circle cx="1525" cy="151.9" r="2.3"/><circle cx="1525" cy="161.1" r="2.3"/><circle cx="1525" cy="167.5" r="2.3"/><circle cx="1525" cy="176.1" r="2.3"/><circle cx="1525" cy="179.2" r="2.3"/><circle cx="1523.6" cy="187.6" r="2.3"/><circle cx="1523.6" cy="194.3" r="2.3"/><circle cx="1523.6" cy="203" r="2.3"/><circle cx="1525" cy="208.5" r="2.3"/><circle cx="1525" cy="214.6" r="2.3"/><circle cx="1523.6" cy="222.9" r="2.3"/><circle cx="1523.6" cy="232.6" r="2.3"/><circle cx="1523.6" cy="239.4" r="2.3"/><circle cx="1525" cy="246.2" r="2.3"/><circle cx="1523.6" cy="252.2" r="2.3"/><circle cx="1525" cy="258.1" r="2.3"/><circle cx="1523.6" cy="267" r="2.3"/><circle cx="1523.6" cy="274.4" r="2.3"/><circle cx="1525" cy="280.6" r="2.3"/><circle cx="1525" cy="288.8" r="2.3"/><circle cx="1523.6" cy="294.9" r="2.3"/><circle cx="1525" cy="300.3" r="2.3"/><circle cx="1525" cy="307.3" r="2.3"/><circle cx="1525" cy="315.7" r="2.3"/><circle cx="1523.6" cy="322.1" r="2.3"/><circle cx="1525" cy="330.4" r="2.3"/><circle cx="1523.6" cy="334.7" r="2.3"/><circle cx="1525" cy="341.1" r="2.3"/><circle cx="1525" cy="349.8" r="2.3"/><circle cx="1525" cy="357.5" r="2.3"/><circle cx="1523.6" cy="366.1" r="2.3"/><circle cx="1525" cy="369.8" r="2.3"/><circle cx="1525" cy="377.3" r="2.3"/><circle cx="1523.6" cy="383.6" r="2.3"/><circle cx="1523.6" cy="392.8" r="2.3"/><circle cx="1525" cy="399.8" r="2.3"/><circle cx="1525" cy="406.8" r="2.3"/><circle cx="1525" cy="412.9" r="2.3"/><circle cx="1523.6" cy="421.5" r="2.3"/><circle cx="1525" cy="429.1" r="2.3"/><circle cx="1525" cy="436.3" r="2.3"/><circle cx="1523.6" cy="443.4" r="2.3"/><circle cx="1525" cy="449.8" r="2.3"/><circle cx="1523.6" cy="454.7" r="2.3"/><circle cx="1525" cy="461.6" r="2.3"/><circle cx="1525" cy="469.6" r="2.3"/><circle cx="1523.6" cy="478.4" r="2.3"/><circle cx="1523.6" cy="482.6" r="2.3"/><circle cx="1523.6" cy="492.9" r="2.3"/><circle cx="1525" cy="496.2" r="2.3"/><circle cx="1523.6" cy="506" r="2.3"/><circle cx="1523.6" cy="510.8" r="2.3"/><circle cx="1524.8" cy="146.7" r="2.3"/><circle cx="1526.2" cy="151.9" r="2.3"/><circle cx="1524.8" cy="161.8" r="2.3"/><circle cx="1526.2" cy="167.9" r="2.3"/><circle cx="1526.2" cy="174.8" r="2.3"/><circle cx="1526.2" cy="180" r="2.3"/><circle cx="1524.8" cy="189.7" r="2.3"/><circle cx="1526.3" cy="196" r="2.3"/><circle cx="1526.3" cy="203.7" r="2.3"/><circle cx="1526.3" cy="208.5" r="2.3"/><circle cx="1524.9" cy="218.2" r="2.3"/><circle cx="1526.3" cy="225.4" r="2.3"/><circle cx="1526.3" cy="228.8" r="2.3"/><circle cx="1524.9" cy="236.3" r="2.3"/><circle cx="1524.9" cy="243.3" r="2.3"/><circle cx="1524.9" cy="252" r="2.3"/><circle cx="1526.3" cy="258.3" r="2.3"/><circle cx="1524.9" cy="265.6" r="2.3"/><circle cx="1526.3" cy="273.6" r="2.3"/><circle cx="1526.3" cy="278.9" r="2.3"/><circle cx="1526.3" cy="288.4" r="2.3"/><circle cx="1526.4" cy="295.2" r="2.3"/><circle cx="1526.4" cy="301.8" r="2.3"/><circle cx="1526.4" cy="308.5" r="2.3"/><circle cx="1526.4" cy="315.4" r="2.3"/><circle cx="1525" cy="320.7" r="2.3"/><circle cx="1525" cy="329.6" r="2.3"/><circle cx="1526.4" cy="337.1" r="2.3"/><circle cx="1525" cy="342" r="2.3"/><circle cx="1525" cy="350.1" r="2.3"/><circle cx="1525" cy="359.4" r="2.3"/><circle cx="1525" cy="363" r="2.3"/><circle cx="1525" cy="371.9" r="2.3"/><circle cx="1526.4" cy="377.7" r="2.3"/><circle cx="1525" cy="386.7" r="2.3"/><circle cx="1525.1" cy="394.3" r="2.3"/><circle cx="1526.5" cy="399.9" r="2.3"/><circle cx="1525.1" cy="408.1" r="2.3"/><circle cx="1526.5" cy="413.7" r="2.3"/><circle cx="1526.5" cy="419.8" r="2.3"/><circle cx="1526.5" cy="429.7" r="2.3"/><circle cx="1526.5" cy="434.9" r="2.3"/><circle cx="1550.3" cy="147.3" r="2.3"/><circle cx="1550.3" cy="151.5" r="2.3"/><circle cx="1551.7" cy="158.4" r="2.3"/><circle cx="1551.7" cy="168" r="2.3"/><circle cx="1551.7" cy="172.4" r="2.3"/><circle cx="1551.7" cy="180.9" r="2.3"/><circle cx="1550.3" cy="190.2" r="2.3"/><circle cx="1550.3" cy="193.4" r="2.3"/><circle cx="1551.7" cy="201.4" r="2.3"/><circle cx="1551.7" cy="208.4" r="2.3"/><circle cx="1551.7" cy="215.3" r="2.3"/><circle cx="1551.7" cy="224.2" r="2.3"/><circle cx="1551.7" cy="232.2" r="2.3"/><circle cx="1550.3" cy="236.5" r="2.3"/><circle cx="1551.7" cy="244.6" r="2.3"/><circle cx="1550.3" cy="253.7" r="2.3"/><circle cx="1551.7" cy="260.1" r="2.3"/><circle cx="1550.3" cy="264.1" r="2.3"/><circle cx="1550.3" cy="272.8" r="2.3"/><circle cx="1551.7" cy="278.5" r="2.3"/><circle cx="1550.3" cy="285.7" r="2.3"/><circle cx="1550.3" cy="295.6" r="2.3"/><circle cx="1551.7" cy="302.5" r="2.3"/><circle cx="1551.7" cy="306.2" r="2.3"/></g>
<path d="M758.5 144V1069M1500.8 144V1069" stroke="#0000ff" stroke-width="4.2"/>
<path d="M225 757.8H1621" stroke="#008000" stroke-width="4.2"/>
<path d="M225 566.2H1621M225 680.2H1621" stroke="#ffa500" stroke-width="2.1"/>
<circle cx="821.3" cy="789" r="4.4" fill="#90ee90"/>
<path d="M821.3 634.5 L826.1 649.2 L841.6 649.2 L829.1 658.3 L833.8 673.1 L821.3 664 L808.8 673.1 L813.5 658.3 L801 649.2 L816.5 649.2Z" fill="#ff0000"/>
<path d="M880.5 573 L885.3 587.7 L900.8 587.7 L888.3 596.8 L893 611.6 L880.5 602.5 L868 611.6 L872.7 596.8 L860.2 587.7 L875.7 587.7Z" fill="#ff0000"/>
<path d="M758.8 707 L758.8 757" fill="none" stroke="#ffff00" stroke-linecap="round" stroke-linejoin="round" stroke-width="14.6" stroke-opacity="0.75"/>
<path d="M821.3 650 L821.3 757" fill="none" stroke="#ffff00" stroke-linecap="round" stroke-linejoin="round" stroke-width="15.2" stroke-opacity="0.85"/>
<path d="M880.3 594.3 L880.3 757" fill="none" stroke="#ffff00" stroke-linecap="round" stroke-linejoin="round" stroke-width="14.6" stroke-opacity="0.85"/>
<path d="M973.6 756.6 L973.9 755.5 L974.2 754.4 L974.4 753.4 L974.7 752.4 L975 751.4 L975.3 750.4 L975.6 749.4 L975.9 748.5 L976.1 747.6 L976.4 746.7 L976.7 745.8 L977 745 L977.3 744.2 L977.6 743.4 L977.9 742.6 L978.1 741.8 L978.4 741.1 L978.7 740.4 L979 739.7 L979.3 739 L979.6 738.3 L979.8 737.7 L980.1 737.1 L980.4 736.5 L980.7 735.9 L981 735.4 L981.3 734.8 L981.6 734.3 L981.8 733.8 L982.1 733.3 L982.4 732.9 L982.7 732.4 L983 732 L983.3 731.6 L983.5 731.3 L983.8 730.9 L984.1 730.6 L984.4 730.2 L984.7 729.9 L985 729.7 L985.2 729.4 L985.5 729.1 L985.8 728.9 L986.1 728.7 L986.4 728.5 L986.7 728.3 L987 728.2 L987.2 728 L987.5 727.9 L987.8 727.8 L988.1 727.7 L988.4 727.7 L988.7 727.6 L988.9 727.6 L989.2 727.5 L989.5 727.5 L989.8 727.5" fill="none" stroke="#ffff00" stroke-linecap="round" stroke-linejoin="round" stroke-width="14.6" stroke-opacity="1"/>
<path d="M989.8 727.5 L991.3 729.5 L992.4 737.5 L992.5 757" fill="none" stroke="#ffff00" stroke-linecap="round" stroke-linejoin="round" stroke-width="14.6" stroke-opacity="1"/>
<path d="M992.5 727.5 L992.6 757" fill="none" stroke="#ffff00" stroke-linecap="round" stroke-linejoin="round" stroke-width="14.6" stroke-opacity="1"/>
<path d="M1019.9 756.5 L1020.2 754.8 L1020.4 753.1 L1020.7 751.4 L1021 749.7 L1021.3 748.1 L1021.5 746.5 L1021.8 744.9 L1022.1 743.4 L1022.3 741.9 L1022.6 740.4 L1022.9 738.9 L1023.2 737.5 L1023.4 736.1 L1023.7 734.7 L1024 733.3 L1024.2 732 L1024.5 730.7 L1024.8 729.4 L1025.1 728.1 L1025.3 726.9 L1025.6 725.7 L1025.9 724.5 L1026.1 723.3 L1026.4 722.2 L1026.7 721.1 L1026.9 720 L1027.2 719 L1027.5 717.9 L1027.8 716.9 L1028 715.9 L1028.3 715 L1028.6 714 L1028.8 713.1 L1029.1 712.3 L1029.4 711.4 L1029.7 710.5 L1029.9 709.7 L1030.2 708.9 L1030.5 708.2 L1030.7 707.4 L1031 706.7 L1031.3 706 L1031.5 705.3 L1031.8 704.7 L1032.1 704 L1032.4 703.4 L1032.6 702.8 L1032.9 702.3 L1033.2 701.7 L1033.4 701.2 L1033.7 700.7 L1034 700.2 L1034.3 699.7 L1034.5 699.3 L1034.8 698.9 L1035.1 698.5 L1035.3 698.1 L1035.6 697.7 L1035.9 697.4 L1036.1 697 L1036.4 696.7 L1036.7 696.4 L1037 696.2 L1037.2 695.9 L1037.5 695.7 L1037.8 695.5 L1038 695.3 L1038.3 695.1 L1038.6 694.9 L1038.9 694.8 L1039.1 694.6 L1039.4 694.5 L1039.7 694.4 L1039.9 694.3 L1040.2 694.2 L1040.5 694.2 L1040.7 694.1 L1041 694.1 L1041.3 694 L1041.6 694 L1041.8 694 L1042.1 694" fill="none" stroke="#ffff00" stroke-linecap="round" stroke-linejoin="round" stroke-width="14.6" stroke-opacity="1"/>
<path d="M1042.1 694 L1043.6 696 L1044.7 704 L1044.8 724" fill="none" stroke="#ffff00" stroke-linecap="round" stroke-linejoin="round" stroke-width="14.6" stroke-opacity="1"/>
<path d="M1044.8 694 L1044.9 757" fill="none" stroke="#ffff00" stroke-linecap="round" stroke-linejoin="round" stroke-width="14.6" stroke-opacity="1"/>
<path d="M1066.7 755.2 L1066.9 752.9 L1067.2 750.6 L1067.5 748.3 L1067.7 746.1 L1068 743.8 L1068.2 741.7 L1068.5 739.5 L1068.8 737.4 L1069 735.3 L1069.3 733.3 L1069.5 731.2 L1069.8 729.2 L1070.1 727.3 L1070.3 725.3 L1070.6 723.4 L1070.8 721.6 L1071.1 719.7 L1071.4 717.9 L1071.6 716.1 L1071.9 714.4 L1072.2 712.7 L1072.4 711 L1072.7 709.3 L1072.9 707.7 L1073.2 706.1 L1073.5 704.5 L1073.7 703 L1074 701.4 L1074.2 699.9 L1074.5 698.5 L1074.8 697.1 L1075 695.7 L1075.3 694.3 L1075.5 692.9 L1075.8 691.6 L1076.1 690.3 L1076.3 689.1 L1076.6 687.8 L1076.8 686.6 L1077.1 685.4 L1077.4 684.3 L1077.6 683.1 L1077.9 682 L1078.1 681 L1078.4 679.9 L1078.7 678.9 L1078.9 677.9 L1079.2 676.9 L1079.5 676 L1079.7 675.1 L1080 674.2 L1080.2 673.3 L1080.5 672.5 L1080.8 671.7 L1081 670.9 L1081.3 670.1 L1081.5 669.4 L1081.8 668.7 L1082.1 668 L1082.3 667.3 L1082.6 666.6 L1082.8 666 L1083.1 665.4 L1083.4 664.8 L1083.6 664.3 L1083.9 663.8 L1084.1 663.3 L1084.4 662.8 L1084.7 662.3 L1084.9 661.9 L1085.2 661.4 L1085.4 661 L1085.7 660.7 L1086 660.3 L1086.2 660 L1086.5 659.7 L1086.7 659.4 L1087 659.1 L1087.3 658.8 L1087.5 658.6 L1087.8 658.4 L1088.1 658.2 L1088.3 658 L1088.6 657.8 L1088.8 657.7 L1089.1 657.5 L1089.4 657.4 L1089.6 657.3 L1089.9 657.2 L1090.1 657.2 L1090.4 657.1 L1090.7 657.1 L1090.9 657 L1091.2 657 L1091.4 657 L1091.7 657" fill="none" stroke="#ffff00" stroke-linecap="round" stroke-linejoin="round" stroke-width="14.6" stroke-opacity="1"/>
<path d="M1091.7 657 L1093.2 659 L1094.3 667 L1094.4 687" fill="none" stroke="#ffff00" stroke-linecap="round" stroke-linejoin="round" stroke-width="14.6" stroke-opacity="1"/>
<path d="M1094.4 657 L1094.5 757" fill="none" stroke="#ffff00" stroke-linecap="round" stroke-linejoin="round" stroke-width="14.6" stroke-opacity="1"/>
<path d="M1112.4 756.1 L1112.7 753.2 L1112.9 750.3 L1113.2 747.5 L1113.4 744.6 L1113.6 741.9 L1113.9 739.1 L1114.1 736.4 L1114.4 733.7 L1114.6 731.1 L1114.9 728.4 L1115.1 725.9 L1115.3 723.3 L1115.6 720.8 L1115.8 718.3 L1116.1 715.9 L1116.3 713.5 L1116.6 711.1 L1116.8 708.8 L1117 706.5 L1117.3 704.2 L1117.5 702 L1117.8 699.8 L1118 697.6 L1118.3 695.5 L1118.5 693.4 L1118.8 691.3 L1119 689.3 L1119.2 687.3 L1119.5 685.3 L1119.7 683.3 L1120 681.4 L1120.2 679.6 L1120.5 677.7 L1120.7 675.9 L1121 674.1 L1121.2 672.4 L1121.4 670.7 L1121.7 669 L1121.9 667.3 L1122.2 665.7 L1122.4 664.1 L1122.7 662.6 L1122.9 661.1 L1123.1 659.6 L1123.4 658.1 L1123.6 656.7 L1123.9 655.3 L1124.1 653.9 L1124.4 652.5 L1124.6 651.2 L1124.8 649.9 L1125.1 648.7 L1125.3 647.5 L1125.6 646.3 L1125.8 645.1 L1126.1 643.9 L1126.3 642.8 L1126.6 641.8 L1126.8 640.7 L1127 639.7 L1127.3 638.7 L1127.5 637.7 L1127.8 636.8 L1128 635.8 L1128.3 635 L1128.5 634.1 L1128.8 633.3 L1129 632.5 L1129.2 631.7 L1129.5 630.9 L1129.7 630.2 L1130 629.5 L1130.2 628.8 L1130.5 628.2 L1130.7 627.5 L1130.9 626.9 L1131.2 626.4 L1131.4 625.8 L1131.7 625.3 L1131.9 624.8 L1132.2 624.3 L1132.4 623.8 L1132.7 623.4 L1132.9 623 L1133.1 622.6 L1133.4 622.2 L1133.6 621.9 L1133.9 621.6 L1134.1 621.3 L1134.4 621 L1134.6 620.7 L1134.8 620.5 L1135.1 620.3 L1135.3 620.1 L1135.6 619.9 L1135.8 619.7 L1136.1 619.6 L1136.3 619.5 L1136.5 619.4 L1136.8 619.3 L1137 619.2 L1137.3 619.1 L1137.5 619.1 L1137.8 619 L1138 619 L1138.3 619 L1138.5 619" fill="none" stroke="#ffff00" stroke-linecap="round" stroke-linejoin="round" stroke-width="14.6" stroke-opacity="1"/>
<path d="M1138.5 619 L1140 621 L1141.1 629 L1141.2 649" fill="none" stroke="#ffff00" stroke-linecap="round" stroke-linejoin="round" stroke-width="14.6" stroke-opacity="1"/>
<path d="M1141.2 619 L1141.3 757" fill="none" stroke="#ffff00" stroke-linecap="round" stroke-linejoin="round" stroke-width="14.6" stroke-opacity="1"/>
<path d="M1141.2 567 L1141.2 619" fill="none" stroke="#ffff00" stroke-linecap="round" stroke-linejoin="round" stroke-width="14.6" stroke-opacity="0.4"/>
<path d="M1155.7 755 L1155.9 751.3 L1156.2 747.6 L1156.4 744 L1156.6 740.4 L1156.9 736.9 L1157.1 733.4 L1157.3 730 L1157.6 726.6 L1157.8 723.3 L1158 719.9 L1158.3 716.7 L1158.5 713.5 L1158.7 710.3 L1159 707.1 L1159.2 704 L1159.4 701 L1159.6 698 L1159.9 695 L1160.1 692.1 L1160.3 689.2 L1160.6 686.3 L1160.8 683.5 L1161 680.8 L1161.3 678 L1161.5 675.3 L1161.7 672.7 L1162 670.1 L1162.2 667.5 L1162.4 665 L1162.7 662.5 L1162.9 660.1 L1163.1 657.6 L1163.3 655.3 L1163.6 652.9 L1163.8 650.6 L1164 648.4 L1164.3 646.2 L1164.5 644 L1164.7 641.9 L1165 639.8 L1165.2 637.7 L1165.4 635.7 L1165.7 633.7 L1165.9 631.7 L1166.1 629.8 L1166.3 627.9 L1166.6 626.1 L1166.8 624.3 L1167 622.5 L1167.3 620.7 L1167.5 619 L1167.7 617.4 L1168 615.7 L1168.2 614.1 L1168.4 612.6 L1168.7 611.1 L1168.9 609.6 L1169.1 608.1 L1169.4 606.7 L1169.6 605.3 L1169.8 603.9 L1170 602.6 L1170.3 601.3 L1170.5 600 L1170.7 598.8 L1171 597.6 L1171.2 596.4 L1171.4 595.3 L1171.7 594.2 L1171.9 593.1 L1172.1 592.1 L1172.4 591.1 L1172.6 590.1 L1172.8 589.1 L1173.1 588.2 L1173.3 587.3 L1173.5 586.5 L1173.8 585.6 L1174 584.8 L1174.2 584.1 L1174.4 583.3 L1174.7 582.6 L1174.9 581.9 L1175.1 581.2 L1175.4 580.6 L1175.6 580 L1175.8 579.4 L1176.1 578.8 L1176.3 578.3 L1176.5 577.8 L1176.8 577.3 L1177 576.9 L1177.2 576.4 L1177.5 576 L1177.7 575.6 L1177.9 575.2 L1178.1 574.9 L1178.4 574.6 L1178.6 574.3 L1178.8 574 L1179.1 573.7 L1179.3 573.5 L1179.5 573.3 L1179.8 573.1 L1180 572.9 L1180.2 572.8 L1180.5 572.6 L1180.7 572.5 L1180.9 572.4 L1181.2 572.3 L1181.4 572.2 L1181.6 572.1 L1181.8 572.1 L1182.1 572.1 L1182.3 572 L1182.5 572 L1182.8 572 L1183 572" fill="none" stroke="#ffff00" stroke-linecap="round" stroke-linejoin="round" stroke-width="14.6" stroke-opacity="1"/>
<path d="M1183 572 L1184.5 574 L1185.6 582 L1185.7 602" fill="none" stroke="#ffff00" stroke-linecap="round" stroke-linejoin="round" stroke-width="14.6" stroke-opacity="1"/>
<path d="M1185.7 572 L1185.8 757" fill="none" stroke="#ffff00" stroke-linecap="round" stroke-linejoin="round" stroke-width="14.6" stroke-opacity="0.55"/>
<path d="M1185.7 567 L1185.7 572" fill="none" stroke="#ffff00" stroke-linecap="round" stroke-linejoin="round" stroke-width="14.6" stroke-opacity="0.4"/>
<path d="M1198.6 754.8 L1198.8 750.7 L1199.1 746.7 L1199.3 742.7 L1199.5 738.7 L1199.7 734.8 L1199.9 730.9 L1200.1 727 L1200.3 723.2 L1200.6 719.4 L1200.8 715.7 L1201 712 L1201.2 708.3 L1201.4 704.7 L1201.6 701.1 L1201.9 697.6 L1202.1 694.1 L1202.3 690.6 L1202.5 687.2 L1202.7 683.8 L1202.9 680.4 L1203.2 677.1 L1203.4 673.8 L1203.6 670.6 L1203.8 667.3 L1204 664.2 L1204.2 661 L1204.5 658 L1204.7 654.9 L1204.9 651.9 L1205.1 648.9 L1205.3 645.9 L1205.5 643 L1205.8 640.2 L1206 637.3 L1206.2 634.5 L1206.4 631.8 L1206.6 629 L1206.8 626.3 L1207.1 623.7 L1207.3 621.1 L1207.5 618.5 L1207.7 616 L1207.9 613.4 L1208.1 611 L1208.3 608.5 L1208.6 606.1 L1208.8 603.8 L1209 601.5 L1209.2 599.2 L1209.4 596.9 L1209.6 594.7 L1209.9 592.5 L1210.1 590.4 L1210.3 588.2 L1210.5 586.2 L1210.7 584.1 L1210.9 582.1 L1211.2 580.2 L1211.4 578.2 L1211.6 576.3 L1211.8 574.4 L1212 572.6 L1212.2 570.8 L1212.5 569.1 L1212.7 567.3" fill="none" stroke="#ffff00" stroke-linecap="round" stroke-linejoin="round" stroke-width="14.6" stroke-opacity="1"/>
<path d="M1227.7 567 L1227.8 757" fill="none" stroke="#ffff00" stroke-linecap="round" stroke-linejoin="round" stroke-width="14.6" stroke-opacity="0.55"/>
<path d="M1238.8 753.8 L1239 749.3 L1239.2 744.8 L1239.4 740.3 L1239.6 735.8 L1239.8 731.4 L1240 727.1 L1240.2 722.8 L1240.4 718.5 L1240.6 714.2 L1240.8 710 L1241 705.8 L1241.2 701.6 L1241.4 697.5 L1241.6 693.4 L1241.8 689.4 L1242 685.4 L1242.2 681.4 L1242.5 677.5 L1242.7 673.6 L1242.9 669.7 L1243.1 665.9 L1243.3 662.1 L1243.5 658.4 L1243.7 654.6 L1243.9 650.9 L1244.1 647.3 L1244.3 643.7 L1244.5 640.1 L1244.7 636.6 L1244.9 633.1 L1245.1 629.6 L1245.3 626.2 L1245.5 622.8 L1245.7 619.4 L1245.9 616.1 L1246.1 612.8 L1246.3 609.5 L1246.6 606.3 L1246.8 603.1 L1247 600 L1247.2 596.9 L1247.4 593.8 L1247.6 590.8 L1247.8 587.8 L1248 584.8 L1248.2 581.9 L1248.4 579 L1248.6 576.1 L1248.8 573.3 L1249 570.5 L1249.2 567.8" fill="none" stroke="#ffff00" stroke-linecap="round" stroke-linejoin="round" stroke-width="14.6" stroke-opacity="0.9"/>
<path d="M1267.5 567 L1267.6 757" fill="none" stroke="#ffff00" stroke-linecap="round" stroke-linejoin="round" stroke-width="14.6" stroke-opacity="0.55"/>
<path d="M1276.4 753.5 L1276.6 747.6 L1276.8 741.7 L1277 735.9 L1277.2 730.1 L1277.4 724.4 L1277.6 718.7 L1277.8 713.1 L1278 707.6 L1278.2 702.1 L1278.4 696.6 L1278.5 691.3 L1278.7 685.9 L1278.9 680.7 L1279.1 675.4 L1279.3 670.3 L1279.5 665.2 L1279.7 660.1 L1279.9 655.1 L1280.1 650.2 L1280.3 645.3 L1280.5 640.5 L1280.7 635.7 L1280.9 631 L1281 626.3 L1281.2 621.7 L1281.4 617.1 L1281.6 612.6 L1281.8 608.1 L1282 603.7 L1282.2 599.4 L1282.4 595.1 L1282.6 590.8 L1282.8 586.6 L1283 582.5 L1283.2 578.4 L1283.4 574.3 L1283.5 570.3" fill="none" stroke="#ffff00" stroke-linecap="round" stroke-linejoin="round" stroke-width="14.6" stroke-opacity="0.8"/>
<path d="M1305.5 567 L1305.6 757" fill="none" stroke="#ffff00" stroke-linecap="round" stroke-linejoin="round" stroke-width="14.6" stroke-opacity="0.55"/>
<path d="M1312.7 752.8 L1312.9 745.6 L1313.1 738.4 L1313.3 731.3 L1313.5 724.3 L1313.7 717.4 L1313.8 710.5 L1314 703.7 L1314.2 696.9 L1314.4 690.3 L1314.6 683.7 L1314.8 677.1 L1314.9 670.7 L1315.1 664.3 L1315.3 658 L1315.5 651.7 L1315.7 645.5 L1315.9 639.4 L1316.1 633.4 L1316.2 627.4 L1316.4 621.5 L1316.6 615.6 L1316.8 609.8 L1317 604.1 L1317.2 598.5 L1317.3 592.9 L1317.5 587.4 L1317.7 581.9 L1317.9 576.5 L1318.1 571.2" fill="none" stroke="#ffff00" stroke-linecap="round" stroke-linejoin="round" stroke-width="14.6" stroke-opacity="0.8"/>
<path d="M1341.8 567 L1341.9 757" fill="none" stroke="#ffff00" stroke-linecap="round" stroke-linejoin="round" stroke-width="14.6" stroke-opacity="0.55"/>
<path d="M1347.6 754.1 L1347.7 746.1 L1347.9 738.2 L1348.1 730.3 L1348.3 722.6 L1348.4 714.8 L1348.6 707.2 L1348.8 699.6 L1348.9 692 L1349.1 684.6 L1349.3 677.1 L1349.5 669.8 L1349.6 662.5 L1349.8 655.3 L1350 648.2 L1350.2 641.1 L1350.3 634.1 L1350.5 627.1 L1350.7 620.2 L1350.9 613.4 L1351 606.6 L1351.2 599.9 L1351.4 593.3 L1351.6 586.7 L1351.7 580.2 L1351.9 573.8 L1352.1 567.4" fill="none" stroke="#ffff00" stroke-linecap="round" stroke-linejoin="round" stroke-width="14.6" stroke-opacity="0.8"/>
<path d="M1375.8 567 L1375.9 757" fill="none" stroke="#ffff00" stroke-linecap="round" stroke-linejoin="round" stroke-width="14.6" stroke-opacity="0.55"/>
<path d="M1381.3 757 L1384.5 571" fill="none" stroke="#ffff00" stroke-linecap="round" stroke-linejoin="round" stroke-width="14.6" stroke-opacity="0.65"/>
<path d="M1408.6 571 L1408.8 757" fill="none" stroke="#ffff00" stroke-linecap="round" stroke-linejoin="round" stroke-width="14.6" stroke-opacity="0.55"/>
<path d="M1414 757 L1417.3 571" fill="none" stroke="#ffff00" stroke-linecap="round" stroke-linejoin="round" stroke-width="14.6" stroke-opacity="0.65"/>
<path d="M1439.5 571 L1440.5 757" fill="none" stroke="#ffff00" stroke-linecap="round" stroke-linejoin="round" stroke-width="14.6" stroke-opacity="0.55"/>
<path d="M1443.5 757 L1446.5 571" fill="none" stroke="#ffff00" stroke-linecap="round" stroke-linejoin="round" stroke-width="14.6" stroke-opacity="0.6"/>
<path d="M1470 571 L1470.5 697" fill="none" stroke="#ffff00" stroke-linecap="round" stroke-linejoin="round" stroke-width="14.6" stroke-opacity="0.55"/>
<path d="M1472.5 697 L1474.5 571" fill="none" stroke="#ffff00" stroke-linecap="round" stroke-linejoin="round" stroke-width="14.6" stroke-opacity="0.55"/>
<path d="M1497.5 571 L1498 621" fill="none" stroke="#ffff00" stroke-linecap="round" stroke-linejoin="round" stroke-width="14.6" stroke-opacity="0.55"/>
<path d="M1501.5 621 L1502.5 571" fill="none" stroke="#ffff00" stroke-linecap="round" stroke-linejoin="round" stroke-width="14.6" stroke-opacity="0.5"/>
<g fill="#ffff00" fill-opacity="0.26" stroke="#ffff00" stroke-opacity="0.32" stroke-width="1.4"><circle cx="938.5" cy="567" r="6.8"/><circle cx="938.5" cy="574.2" r="6.8"/><circle cx="938.5" cy="589.6" r="6.8"/><circle cx="938.5" cy="606.5" r="6.8"/><circle cx="938.5" cy="615.1" r="6.8"/><circle cx="938.5" cy="620.4" r="6.8"/><circle cx="938.5" cy="626.7" r="6.8"/><circle cx="938.5" cy="643.4" r="6.8"/><circle cx="938.5" cy="648.5" r="6.8"/><circle cx="938.5" cy="664.4" r="6.8"/><circle cx="938.5" cy="671.3" r="6.8"/><circle cx="938.5" cy="685.1" r="6.8"/><circle cx="938.5" cy="691.3" r="6.8"/><circle cx="938.5" cy="698.3" r="6.8"/><circle cx="938.5" cy="711.5" r="6.8"/><circle cx="938.5" cy="717.6" r="6.8"/><circle cx="938.5" cy="726.6" r="6.8"/><circle cx="938.5" cy="742.7" r="6.8"/><circle cx="938.5" cy="756.2" r="6.8"/><circle cx="992.6" cy="567" r="6.8"/><circle cx="992.6" cy="583.8" r="6.8"/><circle cx="992.6" cy="589.2" r="6.8"/><circle cx="992.6" cy="597" r="6.8"/><circle cx="992.6" cy="611.5" r="6.8"/><circle cx="992.6" cy="624.7" r="6.8"/><circle cx="992.6" cy="630.2" r="6.8"/><circle cx="992.6" cy="641.3" r="6.8"/><circle cx="992.6" cy="649" r="6.8"/><circle cx="992.6" cy="659.2" r="6.8"/><circle cx="992.6" cy="665.5" r="6.8"/><circle cx="992.6" cy="670.7" r="6.8"/><circle cx="992.6" cy="687.6" r="6.8"/><circle cx="992.6" cy="696.4" r="6.8"/><circle cx="992.6" cy="711.9" r="6.8"/><circle cx="992.6" cy="718.4" r="6.8"/><circle cx="1044.9" cy="567" r="6.8"/><circle cx="1044.9" cy="573.6" r="6.8"/><circle cx="1044.9" cy="583.8" r="6.8"/><circle cx="1044.9" cy="590.9" r="6.8"/><circle cx="1044.9" cy="604.1" r="6.8"/><circle cx="1044.9" cy="610.9" r="6.8"/><circle cx="1044.9" cy="624.8" r="6.8"/><circle cx="1044.9" cy="635.8" r="6.8"/><circle cx="1044.9" cy="642.1" r="6.8"/><circle cx="1044.9" cy="651.4" r="6.8"/><circle cx="1044.9" cy="662.3" r="6.8"/><circle cx="1044.9" cy="678.4" r="6.8"/><circle cx="1044.9" cy="687.6" r="6.8"/><circle cx="1094.5" cy="567" r="6.8"/><circle cx="1094.5" cy="583.6" r="6.8"/><circle cx="1094.5" cy="599.2" r="6.8"/><circle cx="1094.5" cy="613" r="6.8"/><circle cx="1094.5" cy="621.3" r="6.8"/><circle cx="1094.5" cy="628.4" r="6.8"/><circle cx="1094.5" cy="636.6" r="6.8"/><circle cx="1094.5" cy="642.4" r="6.8"/><circle cx="1094.5" cy="647.9" r="6.8"/></g>
<path d="M821.3 624.5V757M881.0 623.8V757" stroke="#008000" stroke-width="13.2" stroke-linecap="round"/>
<path d="M821.3 594.7V624" stroke="#008000" stroke-width="2.1"/>
</g>
<g font-family="Liberation Sans, sans-serif" font-size="16.45" fill="#000">
<text x="0" y="0" transform="translate(398.7 954) rotate(-85)" textLength="33.4" lengthAdjust="spacingAndGlyphs">n=1</text>
<text x="0" y="0" transform="translate(454.4 935.2) rotate(-85)" textLength="33.4" lengthAdjust="spacingAndGlyphs">n=2</text>
<text x="0" y="0" transform="translate(516.3 882.1) rotate(-85)" textLength="33.4" lengthAdjust="spacingAndGlyphs">n=3</text>
<text x="0" y="0" transform="translate(578.6 861) rotate(-85)" textLength="33.4" lengthAdjust="spacingAndGlyphs">n=4</text>
<text x="0" y="0" transform="translate(643.2 801.1) rotate(-85)" textLength="33.4" lengthAdjust="spacingAndGlyphs">n=5</text>
<text x="0" y="0" transform="translate(707.5 764.9) rotate(-85)" textLength="33.4" lengthAdjust="spacingAndGlyphs">n=6</text>
<text x="0" y="0" transform="translate(770.3 710.6) rotate(-85)" textLength="33.4" lengthAdjust="spacingAndGlyphs">n=7</text>
<text x="0" y="0" transform="translate(833.1 659.4) rotate(-85)" textLength="33.4" lengthAdjust="spacingAndGlyphs">n=8</text>
<text x="0" y="0" transform="translate(892.3 597.9) rotate(-85)" textLength="33.4" lengthAdjust="spacingAndGlyphs">n=9</text>
<text x="0" y="0" transform="translate(950.2 531.6) rotate(-85)" textLength="43.4" lengthAdjust="spacingAndGlyphs">n=10</text>
<text x="0" y="0" transform="translate(1004.3 466.1) rotate(-85)" textLength="43.4" lengthAdjust="spacingAndGlyphs">n=11</text>
<text x="0" y="0" transform="translate(1056.6 392) rotate(-85)" textLength="43.4" lengthAdjust="spacingAndGlyphs">n=12</text>
<text x="0" y="0" transform="translate(1106.2 304.1) rotate(-85)" textLength="43.4" lengthAdjust="spacingAndGlyphs">n=13</text>
<text x="0" y="0" transform="translate(1153 207.2) rotate(-85)" textLength="43.4" lengthAdjust="spacingAndGlyphs">n=14</text>
</g>
<rect x="235.9" y="155.1" width="445.6" height="243.2" rx="4" ry="4" fill="#fff" fill-opacity="0.8" stroke="#d4d4d4" stroke-width="1.2"/>
<path d="M242.7 171.5H286.3" stroke="#000" stroke-width="2.1"/><circle cx="265.2" cy="171.5" r="2.1" fill="#000"/>
<path d="M242.7 202.9H286.3" stroke="#0000ff" stroke-width="4.2"/>
<path d="M242.7 233.3H286.3" stroke="#008000" stroke-width="4.2"/>
<path d="M242.7 263.7H286.3" stroke="#ffa500" stroke-width="2.1"/>
<circle cx="265.3" cy="294.2" r="4.4" fill="#90ee90"/>
<path d="M242.7 325.2H286.3" stroke="#ff0000" stroke-width="2.1"/>
<path d="M265 304 L269.8 318.8 L285.4 318.8 L272.8 327.9 L277.6 342.7 L265 333.6 L252.4 342.7 L257.2 327.9 L244.6 318.8 L260.2 318.8Z" fill="#ff0000"/>
<circle cx="265.3" cy="369.0" r="7.3" fill="#ffff00" fill-opacity="0.25" stroke="#ffff00" stroke-opacity="0.25" stroke-width="1.4"/>
<g font-family="Liberation Sans, sans-serif" font-size="21.56" fill="#000">
<text x="302.6" y="179.4" textLength="160.9" lengthAdjust="spacingAndGlyphs">m2.00_z0.0247</text>
<text x="302.6" y="209.8" textLength="339.1" lengthAdjust="spacingAndGlyphs">peak detector horizontal bounds</text>
<text x="302.6" y="240.3" textLength="370.6" lengthAdjust="spacingAndGlyphs">min. P consistent with observations</text>
<text x="302.6" y="270.7" textLength="339.8" lengthAdjust="spacingAndGlyphs">max. P must fall within this span</text>
<text x="302.6" y="301" textLength="337.9" lengthAdjust="spacingAndGlyphs">pulse region fit with cubic spline</text>
<text x="302.6" y="331.6" textLength="172" lengthAdjust="spacingAndGlyphs">pulses identified</text>
<text x="302.6" y="362" textLength="232.4" lengthAdjust="spacingAndGlyphs">intersection w/ P,L,T,R</text>
<text x="302.6" y="384.4" textLength="158.6" lengthAdjust="spacingAndGlyphs">loosely defined</text>
</g>
<rect x="225.5" y="144.5" width="1395" height="924" fill="none" stroke="#000" stroke-width="1.1"/>
<path d="M254.3 1068.5V1073.4M439.9 1068.5V1073.4M625.4 1068.5V1073.4M811 1068.5V1073.4M996.6 1068.5V1073.4M1182.1 1068.5V1073.4M1367.7 1068.5V1073.4M1553.3 1068.5V1073.4M220.6 904.5H225.5M220.6 714.5H225.5M220.6 524.5H225.5M220.6 334.5H225.5M220.6 144.5H225.5" stroke="#000" stroke-width="1.1"/>
<g font-family="Liberation Sans, sans-serif" font-size="14.38" fill="#000">
<text x="253.8" y="1089.4" text-anchor="middle" textLength="56.2" lengthAdjust="spacingAndGlyphs">1146.00</text>
<text x="439.4" y="1089.4" text-anchor="middle" textLength="56.2" lengthAdjust="spacingAndGlyphs">1146.25</text>
<text x="624.9" y="1089.4" text-anchor="middle" textLength="56.2" lengthAdjust="spacingAndGlyphs">1146.50</text>
<text x="810.5" y="1089.4" text-anchor="middle" textLength="56.2" lengthAdjust="spacingAndGlyphs">1146.75</text>
<text x="996.1" y="1089.4" text-anchor="middle" textLength="56.2" lengthAdjust="spacingAndGlyphs">1147.00</text>
<text x="1181.6" y="1089.4" text-anchor="middle" textLength="56.2" lengthAdjust="spacingAndGlyphs">1147.25</text>
<text x="1367.2" y="1089.4" text-anchor="middle" textLength="56.2" lengthAdjust="spacingAndGlyphs">1147.50</text>
<text x="1552.8" y="1089.4" text-anchor="middle" textLength="56.2" lengthAdjust="spacingAndGlyphs">1147.75</text>
<text x="215.3" y="910" text-anchor="end" textLength="25.3" lengthAdjust="spacingAndGlyphs">200</text>
<text x="215.3" y="720" text-anchor="end" textLength="25.3" lengthAdjust="spacingAndGlyphs">400</text>
<text x="215.3" y="530" text-anchor="end" textLength="25.3" lengthAdjust="spacingAndGlyphs">600</text>
<text x="215.3" y="340" text-anchor="end" textLength="25.3" lengthAdjust="spacingAndGlyphs">800</text>
<text x="215.3" y="150" text-anchor="end" textLength="33.6" lengthAdjust="spacingAndGlyphs">1000</text>
</g>
<text x="922.5" y="1129.4" text-anchor="middle" font-family="Liberation Sans, sans-serif" font-size="43.1" textLength="204" lengthAdjust="spacingAndGlyphs">Age (Myr)</text>
<text x="0" y="0" transform="translate(163.3 607.5) rotate(-90)" text-anchor="middle" font-family="Liberation Sans, sans-serif" font-size="43.1" textLength="349.6" lengthAdjust="spacingAndGlyphs">FM period (days)</text>
</svg>
</body></html>
